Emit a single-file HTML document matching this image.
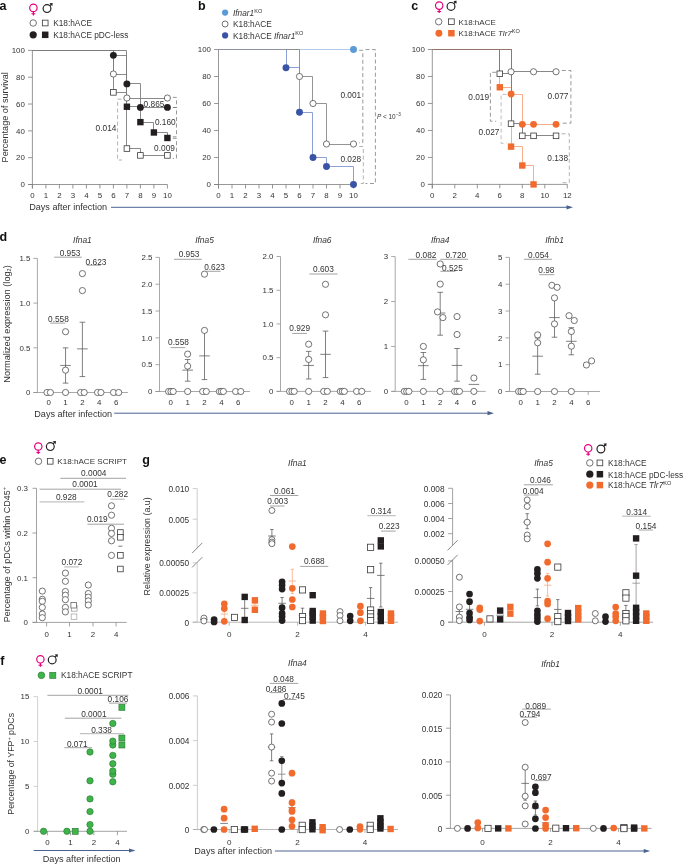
<!DOCTYPE html><html><head><meta charset="utf-8"><style>html,body{margin:0;padding:0;background:#fff;}svg{display:block;font-family:"Liberation Sans",sans-serif;will-change:transform;}</style></head><body>
<svg width="685" height="864" viewBox="0 0 685 864">
<rect width="685" height="864" fill="#fff"/>
<text x="-0.6" y="10.4" font-size="12.5" font-weight="bold" fill="#111">a</text>
<circle cx="33.4" cy="7.9" r="3.7" fill="none" stroke="#e6007e" stroke-width="1.2"/>
<line x1="33.4" y1="11.6" x2="33.4" y2="15.4" stroke="#e6007e" stroke-width="1.2"/>
<line x1="31.5" y1="13.8" x2="35.3" y2="13.8" stroke="#e6007e" stroke-width="1.1"/>
<circle cx="47" cy="8.6" r="3.9" fill="none" stroke="#222" stroke-width="1.2"/>
<line x1="49.76" y1="5.84" x2="51.45" y2="4.15" stroke="#222" stroke-width="1.2"/>
<path d="M52.65 2.95 L49.45 3.25 L52.35 6.15 Z" fill="#222"/>
<circle cx="33.2" cy="23" r="3.25" fill="#fff" stroke="#474747" stroke-width="0.75"/>
<rect x="42.35" y="20.15" width="5.7" height="5.7" fill="#fff" stroke="#3a3a3a" stroke-width="0.8"/>
<text x="53.2" y="23.3" font-size="8.3" text-anchor="start" fill="#333" font-weight="normal" font-style="normal" dominant-baseline="central">K18:hACE</text>
<circle cx="33.2" cy="34.8" r="3.6" fill="#231f20"/>
<rect x="41.95" y="31.55" width="6.5" height="6.5" fill="#231f20"/>
<text x="53.2" y="35.1" font-size="8.3" text-anchor="start" fill="#333" font-weight="normal" font-style="normal" dominant-baseline="central">K18:hACE pDC-less</text>
<text x="4.6" y="117.25" font-size="9.15" text-anchor="middle" fill="#333" font-weight="normal" font-style="normal" dominant-baseline="central" transform="rotate(-90 4.6 117.25)">Percentage of survival</text>
<line x1="32.4" y1="50.4" x2="32.4" y2="188.5" stroke="#7d7d7d" stroke-width="0.8"/>
<line x1="28" y1="184.5" x2="32.4" y2="184.5" stroke="#7d7d7d" stroke-width="0.8"/>
<text x="24.9" y="184.8" font-size="7.9" text-anchor="end" fill="#333" font-weight="normal" font-style="normal" dominant-baseline="central">0</text>
<line x1="28" y1="157.68" x2="32.4" y2="157.68" stroke="#7d7d7d" stroke-width="0.8"/>
<text x="24.9" y="157.98" font-size="7.9" text-anchor="end" fill="#333" font-weight="normal" font-style="normal" dominant-baseline="central">20</text>
<line x1="28" y1="130.86" x2="32.4" y2="130.86" stroke="#7d7d7d" stroke-width="0.8"/>
<text x="24.9" y="131.16" font-size="7.9" text-anchor="end" fill="#333" font-weight="normal" font-style="normal" dominant-baseline="central">40</text>
<line x1="28" y1="104.04" x2="32.4" y2="104.04" stroke="#7d7d7d" stroke-width="0.8"/>
<text x="24.9" y="104.34" font-size="7.9" text-anchor="end" fill="#333" font-weight="normal" font-style="normal" dominant-baseline="central">60</text>
<line x1="28" y1="77.22" x2="32.4" y2="77.22" stroke="#7d7d7d" stroke-width="0.8"/>
<text x="24.9" y="77.52" font-size="7.9" text-anchor="end" fill="#333" font-weight="normal" font-style="normal" dominant-baseline="central">80</text>
<line x1="28" y1="50.4" x2="32.4" y2="50.4" stroke="#7d7d7d" stroke-width="0.8"/>
<text x="24.9" y="50.7" font-size="7.9" text-anchor="end" fill="#333" font-weight="normal" font-style="normal" dominant-baseline="central">100</text>
<line x1="28" y1="184.5" x2="167.4" y2="184.5" stroke="#7d7d7d" stroke-width="0.8"/>
<line x1="32.4" y1="184.5" x2="32.4" y2="188.5" stroke="#7d7d7d" stroke-width="0.8"/>
<text x="32.4" y="195.6" font-size="7.9" text-anchor="middle" fill="#333" font-weight="normal" font-style="normal" dominant-baseline="central">0</text>
<line x1="45.9" y1="184.5" x2="45.9" y2="188.5" stroke="#7d7d7d" stroke-width="0.8"/>
<text x="45.9" y="195.6" font-size="7.9" text-anchor="middle" fill="#333" font-weight="normal" font-style="normal" dominant-baseline="central">1</text>
<line x1="59.4" y1="184.5" x2="59.4" y2="188.5" stroke="#7d7d7d" stroke-width="0.8"/>
<text x="59.4" y="195.6" font-size="7.9" text-anchor="middle" fill="#333" font-weight="normal" font-style="normal" dominant-baseline="central">2</text>
<line x1="72.9" y1="184.5" x2="72.9" y2="188.5" stroke="#7d7d7d" stroke-width="0.8"/>
<text x="72.9" y="195.6" font-size="7.9" text-anchor="middle" fill="#333" font-weight="normal" font-style="normal" dominant-baseline="central">3</text>
<line x1="86.4" y1="184.5" x2="86.4" y2="188.5" stroke="#7d7d7d" stroke-width="0.8"/>
<text x="86.4" y="195.6" font-size="7.9" text-anchor="middle" fill="#333" font-weight="normal" font-style="normal" dominant-baseline="central">4</text>
<line x1="99.9" y1="184.5" x2="99.9" y2="188.5" stroke="#7d7d7d" stroke-width="0.8"/>
<text x="99.9" y="195.6" font-size="7.9" text-anchor="middle" fill="#333" font-weight="normal" font-style="normal" dominant-baseline="central">5</text>
<line x1="113.4" y1="184.5" x2="113.4" y2="188.5" stroke="#7d7d7d" stroke-width="0.8"/>
<text x="113.4" y="195.6" font-size="7.9" text-anchor="middle" fill="#333" font-weight="normal" font-style="normal" dominant-baseline="central">6</text>
<line x1="126.9" y1="184.5" x2="126.9" y2="188.5" stroke="#7d7d7d" stroke-width="0.8"/>
<text x="126.9" y="195.6" font-size="7.9" text-anchor="middle" fill="#333" font-weight="normal" font-style="normal" dominant-baseline="central">7</text>
<line x1="140.4" y1="184.5" x2="140.4" y2="188.5" stroke="#7d7d7d" stroke-width="0.8"/>
<text x="140.4" y="195.6" font-size="7.9" text-anchor="middle" fill="#333" font-weight="normal" font-style="normal" dominant-baseline="central">8</text>
<line x1="153.9" y1="184.5" x2="153.9" y2="188.5" stroke="#7d7d7d" stroke-width="0.8"/>
<text x="153.9" y="195.6" font-size="7.9" text-anchor="middle" fill="#333" font-weight="normal" font-style="normal" dominant-baseline="central">9</text>
<line x1="167.4" y1="184.5" x2="167.4" y2="188.5" stroke="#7d7d7d" stroke-width="0.8"/>
<text x="167.4" y="195.6" font-size="7.9" text-anchor="middle" fill="#333" font-weight="normal" font-style="normal" dominant-baseline="central">10</text>
<path d="M32.5 50.5 H113.5 V74.5 H126.5 V98.5 H167.5" stroke="#7d7d7d" stroke-width="0.9" fill="none"/>
<path d="M32.5 50.5 H113.5 V55.5 H126.5 V83.5 H140.5 V107.5 H167.5" stroke="#7d7d7d" stroke-width="0.9" fill="none"/>
<path d="M32.5 50.5 H113.5 V92.5 H126.5 V148.5 H140.5 V155.5 H167.5" stroke="#7d7d7d" stroke-width="0.9" fill="none"/>
<path d="M32.5 50.5 H126.5 V106.5 H140.5 V122.5 H153.5 V132.5 H167.5 V137.5 H167.5" stroke="#7d7d7d" stroke-width="0.9" fill="none"/>
<circle cx="113.4" cy="74" r="3.1" fill="#fff" stroke="#474747" stroke-width="0.75"/>
<circle cx="126.9" cy="98.01" r="3.1" fill="#fff" stroke="#474747" stroke-width="0.75"/>
<circle cx="167.4" cy="98.01" r="3.1" fill="#fff" stroke="#474747" stroke-width="0.75"/>
<circle cx="113.4" cy="55.36" r="3.45" fill="#231f20"/>
<circle cx="126.9" cy="83.92" r="3.45" fill="#231f20"/>
<circle cx="140.4" cy="107.39" r="3.45" fill="#231f20"/>
<circle cx="167.4" cy="107.39" r="3.45" fill="#231f20"/>
<rect x="110.6" y="89.57" width="5.6" height="5.6" fill="#fff" stroke="#3a3a3a" stroke-width="0.8"/>
<rect x="124.1" y="145.76" width="5.6" height="5.6" fill="#fff" stroke="#3a3a3a" stroke-width="0.8"/>
<rect x="137.6" y="152.6" width="5.6" height="5.6" fill="#fff" stroke="#3a3a3a" stroke-width="0.8"/>
<rect x="164.6" y="152.6" width="5.6" height="5.6" fill="#fff" stroke="#3a3a3a" stroke-width="0.8"/>
<rect x="123.7" y="103.52" width="6.4" height="6.4" fill="#231f20"/>
<rect x="137.2" y="118.94" width="6.4" height="6.4" fill="#231f20"/>
<rect x="150.7" y="129.27" width="6.4" height="6.4" fill="#231f20"/>
<rect x="164.2" y="134.77" width="6.4" height="6.4" fill="#231f20"/>
<path d="M121.5 99.2 H117.6 V160 H122" stroke="#999" stroke-width="0.75" fill="none" stroke-dasharray="4 2.6"/>
<path d="M172.8 97.4 H176.5 V107.5 H172.8" stroke="#777" stroke-width="0.75" fill="none" stroke-dasharray="4 2.6"/>
<path d="M172.8 107.5 H176.5 V136.8 H172.8" stroke="#777" stroke-width="0.75" fill="none" stroke-dasharray="4 2.6"/>
<path d="M172.8 138.3 H176.5 V158.5 H172.8" stroke="#777" stroke-width="0.75" fill="none" stroke-dasharray="4 2.6"/>
<text x="154" y="104" font-size="8.3" text-anchor="middle" fill="#333" font-weight="normal" font-style="normal" dominant-baseline="central">0.865</text>
<text x="165.3" y="122.1" font-size="8.3" text-anchor="middle" fill="#333" font-weight="normal" font-style="normal" dominant-baseline="central">0.160</text>
<text x="164.5" y="147.8" font-size="8.3" text-anchor="middle" fill="#333" font-weight="normal" font-style="normal" dominant-baseline="central">0.009</text>
<text x="106" y="128.1" font-size="8.3" text-anchor="middle" fill="#333" font-weight="normal" font-style="normal" dominant-baseline="central">0.014</text>
<text x="197.9" y="10.4" font-size="12.5" font-weight="bold" fill="#111">b</text>
<circle cx="225.1" cy="12.6" r="3.1" fill="#5b9bd5"/>
<text x="233" y="13.3" font-size="8.3" fill="#333" dominant-baseline="central"><tspan font-style="italic">Ifnar1</tspan><tspan font-size="5.6" dy="-2.6">KO</tspan></text>
<circle cx="225.1" cy="24" r="3.0" fill="#fff" stroke="#474747" stroke-width="0.75"/>
<text x="233" y="24.4" font-size="8.3" text-anchor="start" fill="#333" font-weight="normal" font-style="normal" dominant-baseline="central">K18:hACE</text>
<circle cx="225.1" cy="35.4" r="3.1" fill="#3a54a5"/>
<text x="233" y="35.8" font-size="8.3" fill="#333" dominant-baseline="central">K18:hACE <tspan font-style="italic">Ifnar1</tspan><tspan font-size="5.6" dy="-2.6">KO</tspan></text>
<line x1="218.5" y1="49.5" x2="218.5" y2="188.5" stroke="#7d7d7d" stroke-width="0.8"/>
<line x1="214.1" y1="184.5" x2="218.5" y2="184.5" stroke="#7d7d7d" stroke-width="0.8"/>
<text x="211" y="184.8" font-size="7.9" text-anchor="end" fill="#333" font-weight="normal" font-style="normal" dominant-baseline="central">0</text>
<line x1="214.1" y1="157.5" x2="218.5" y2="157.5" stroke="#7d7d7d" stroke-width="0.8"/>
<text x="211" y="157.8" font-size="7.9" text-anchor="end" fill="#333" font-weight="normal" font-style="normal" dominant-baseline="central">20</text>
<line x1="214.1" y1="130.5" x2="218.5" y2="130.5" stroke="#7d7d7d" stroke-width="0.8"/>
<text x="211" y="130.8" font-size="7.9" text-anchor="end" fill="#333" font-weight="normal" font-style="normal" dominant-baseline="central">40</text>
<line x1="214.1" y1="103.5" x2="218.5" y2="103.5" stroke="#7d7d7d" stroke-width="0.8"/>
<text x="211" y="103.8" font-size="7.9" text-anchor="end" fill="#333" font-weight="normal" font-style="normal" dominant-baseline="central">60</text>
<line x1="214.1" y1="76.5" x2="218.5" y2="76.5" stroke="#7d7d7d" stroke-width="0.8"/>
<text x="211" y="76.8" font-size="7.9" text-anchor="end" fill="#333" font-weight="normal" font-style="normal" dominant-baseline="central">80</text>
<line x1="214.1" y1="49.5" x2="218.5" y2="49.5" stroke="#7d7d7d" stroke-width="0.8"/>
<text x="211" y="49.8" font-size="7.9" text-anchor="end" fill="#333" font-weight="normal" font-style="normal" dominant-baseline="central">100</text>
<line x1="214.1" y1="184.5" x2="353.5" y2="184.5" stroke="#7d7d7d" stroke-width="0.8"/>
<line x1="218.5" y1="184.5" x2="218.5" y2="188.5" stroke="#7d7d7d" stroke-width="0.8"/>
<text x="218.5" y="195.6" font-size="7.9" text-anchor="middle" fill="#333" font-weight="normal" font-style="normal" dominant-baseline="central">0</text>
<line x1="232" y1="184.5" x2="232" y2="188.5" stroke="#7d7d7d" stroke-width="0.8"/>
<text x="232" y="195.6" font-size="7.9" text-anchor="middle" fill="#333" font-weight="normal" font-style="normal" dominant-baseline="central">1</text>
<line x1="245.5" y1="184.5" x2="245.5" y2="188.5" stroke="#7d7d7d" stroke-width="0.8"/>
<text x="245.5" y="195.6" font-size="7.9" text-anchor="middle" fill="#333" font-weight="normal" font-style="normal" dominant-baseline="central">2</text>
<line x1="259" y1="184.5" x2="259" y2="188.5" stroke="#7d7d7d" stroke-width="0.8"/>
<text x="259" y="195.6" font-size="7.9" text-anchor="middle" fill="#333" font-weight="normal" font-style="normal" dominant-baseline="central">3</text>
<line x1="272.5" y1="184.5" x2="272.5" y2="188.5" stroke="#7d7d7d" stroke-width="0.8"/>
<text x="272.5" y="195.6" font-size="7.9" text-anchor="middle" fill="#333" font-weight="normal" font-style="normal" dominant-baseline="central">4</text>
<line x1="286" y1="184.5" x2="286" y2="188.5" stroke="#7d7d7d" stroke-width="0.8"/>
<text x="286" y="195.6" font-size="7.9" text-anchor="middle" fill="#333" font-weight="normal" font-style="normal" dominant-baseline="central">5</text>
<line x1="299.5" y1="184.5" x2="299.5" y2="188.5" stroke="#7d7d7d" stroke-width="0.8"/>
<text x="299.5" y="195.6" font-size="7.9" text-anchor="middle" fill="#333" font-weight="normal" font-style="normal" dominant-baseline="central">6</text>
<line x1="313" y1="184.5" x2="313" y2="188.5" stroke="#7d7d7d" stroke-width="0.8"/>
<text x="313" y="195.6" font-size="7.9" text-anchor="middle" fill="#333" font-weight="normal" font-style="normal" dominant-baseline="central">7</text>
<line x1="326.5" y1="184.5" x2="326.5" y2="188.5" stroke="#7d7d7d" stroke-width="0.8"/>
<text x="326.5" y="195.6" font-size="7.9" text-anchor="middle" fill="#333" font-weight="normal" font-style="normal" dominant-baseline="central">8</text>
<line x1="340" y1="184.5" x2="340" y2="188.5" stroke="#7d7d7d" stroke-width="0.8"/>
<text x="340" y="195.6" font-size="7.9" text-anchor="middle" fill="#333" font-weight="normal" font-style="normal" dominant-baseline="central">9</text>
<line x1="353.5" y1="184.5" x2="353.5" y2="188.5" stroke="#7d7d7d" stroke-width="0.8"/>
<text x="353.5" y="195.6" font-size="7.9" text-anchor="middle" fill="#333" font-weight="normal" font-style="normal" dominant-baseline="central">10</text>
<path d="M218.5 49.5 H353.5" stroke="#a9c4ea" stroke-width="0.9" fill="none"/>
<path d="M218.5 49.5 H286.5 V67.5 H299.5 V112.5 H312.5 V157.5 H326.5 V166.5 H353.5 V184.5 H353.5" stroke="#7f97d2" stroke-width="0.9" fill="none"/>
<path d="M218.5 49.5 H299.5 V76.5 H312.5 V103.5 H326.5 V144.5 H353.5" stroke="#888888" stroke-width="0.9" fill="none"/>
<line x1="218.5" y1="49.5" x2="286.5" y2="49.5" stroke="#8a93a8" stroke-width="0.9"/>
<circle cx="353.5" cy="49.5" r="3.45" fill="#5b9bd5"/>
<circle cx="299.5" cy="76.5" r="3.1" fill="#fff" stroke="#474747" stroke-width="0.75"/>
<circle cx="313" cy="103.5" r="3.1" fill="#fff" stroke="#474747" stroke-width="0.75"/>
<circle cx="326.5" cy="144" r="3.1" fill="#fff" stroke="#474747" stroke-width="0.75"/>
<circle cx="353.5" cy="144" r="3.1" fill="#fff" stroke="#474747" stroke-width="0.75"/>
<circle cx="286" cy="67.72" r="3.45" fill="#3a54a5"/>
<circle cx="299.5" cy="112.28" r="3.45" fill="#3a54a5"/>
<circle cx="313" cy="157.5" r="3.45" fill="#3a54a5"/>
<circle cx="326.5" cy="166.55" r="3.45" fill="#3a54a5"/>
<circle cx="353.5" cy="184.5" r="3.45" fill="#3a54a5"/>
<path d="M359.2 50.3 H362.8 V142.8 H359.2" stroke="#777" stroke-width="0.75" fill="none" stroke-dasharray="4 2.6"/>
<path d="M359.2 146.5 H363.3 V183.5 H359.2" stroke="#999" stroke-width="0.75" fill="none" stroke-dasharray="4 2.6"/>
<path d="M365.5 49.6 H375.4 V183.5 H365.5" stroke="#777" stroke-width="0.75" fill="none" stroke-dasharray="4 2.6"/>
<text x="350.8" y="95.2" font-size="8.3" text-anchor="middle" fill="#333" font-weight="normal" font-style="normal" dominant-baseline="central">0.001</text>
<text x="350.8" y="158.5" font-size="8.3" text-anchor="middle" fill="#333" font-weight="normal" font-style="normal" dominant-baseline="central">0.028</text>
<text x="377" y="116.3" font-size="6.4" fill="#333" dominant-baseline="central"><tspan font-style="italic">P</tspan> &lt; 10<tspan font-size="4.6" dy="-2.4">&#8722;3</tspan></text>
<text x="411.2" y="10.4" font-size="12.5" font-weight="bold" fill="#111">c</text>
<circle cx="439.2" cy="5.6" r="3.7" fill="none" stroke="#e6007e" stroke-width="1.2"/>
<line x1="439.2" y1="9.3" x2="439.2" y2="13.1" stroke="#e6007e" stroke-width="1.2"/>
<line x1="437.3" y1="11.5" x2="441.1" y2="11.5" stroke="#e6007e" stroke-width="1.1"/>
<circle cx="451" cy="6.4" r="3.9" fill="none" stroke="#222" stroke-width="1.2"/>
<line x1="453.76" y1="3.64" x2="455.45" y2="1.95" stroke="#222" stroke-width="1.2"/>
<path d="M456.65 0.75 L453.45 1.05 L456.35 3.95 Z" fill="#222"/>
<circle cx="438.7" cy="21.7" r="3.25" fill="#fff" stroke="#474747" stroke-width="0.75"/>
<rect x="448.55" y="18.85" width="5.7" height="5.7" fill="#fff" stroke="#3a3a3a" stroke-width="0.8"/>
<text x="458.4" y="22" font-size="8.0" text-anchor="start" fill="#333" font-weight="normal" font-style="normal" dominant-baseline="central">K18:hACE</text>
<circle cx="438.9" cy="33.2" r="3.45" fill="#f26b2e"/>
<rect x="448.15" y="29.95" width="6.5" height="6.5" fill="#f26b2e"/>
<text x="458.4" y="33.4" font-size="8.0" fill="#333" dominant-baseline="central">K18:hACE <tspan font-style="italic">Tlr7</tspan><tspan font-size="5.6" dy="-2.6">KO</tspan></text>
<line x1="432.3" y1="49.5" x2="432.3" y2="188.4" stroke="#7d7d7d" stroke-width="0.8"/>
<line x1="427.9" y1="184.4" x2="432.3" y2="184.4" stroke="#7d7d7d" stroke-width="0.8"/>
<text x="424.8" y="184.7" font-size="7.9" text-anchor="end" fill="#333" font-weight="normal" font-style="normal" dominant-baseline="central">0</text>
<line x1="427.9" y1="157.42" x2="432.3" y2="157.42" stroke="#7d7d7d" stroke-width="0.8"/>
<text x="424.8" y="157.72" font-size="7.9" text-anchor="end" fill="#333" font-weight="normal" font-style="normal" dominant-baseline="central">20</text>
<line x1="427.9" y1="130.44" x2="432.3" y2="130.44" stroke="#7d7d7d" stroke-width="0.8"/>
<text x="424.8" y="130.74" font-size="7.9" text-anchor="end" fill="#333" font-weight="normal" font-style="normal" dominant-baseline="central">40</text>
<line x1="427.9" y1="103.46" x2="432.3" y2="103.46" stroke="#7d7d7d" stroke-width="0.8"/>
<text x="424.8" y="103.76" font-size="7.9" text-anchor="end" fill="#333" font-weight="normal" font-style="normal" dominant-baseline="central">60</text>
<line x1="427.9" y1="76.48" x2="432.3" y2="76.48" stroke="#7d7d7d" stroke-width="0.8"/>
<text x="424.8" y="76.78" font-size="7.9" text-anchor="end" fill="#333" font-weight="normal" font-style="normal" dominant-baseline="central">80</text>
<line x1="427.9" y1="49.5" x2="432.3" y2="49.5" stroke="#7d7d7d" stroke-width="0.8"/>
<text x="424.8" y="49.8" font-size="7.9" text-anchor="end" fill="#333" font-weight="normal" font-style="normal" dominant-baseline="central">100</text>
<line x1="427.9" y1="184.4" x2="567.3" y2="184.4" stroke="#7d7d7d" stroke-width="0.8"/>
<line x1="432.3" y1="184.4" x2="432.3" y2="188.4" stroke="#7d7d7d" stroke-width="0.8"/>
<text x="432.3" y="195.6" font-size="7.9" text-anchor="middle" fill="#333" font-weight="normal" font-style="normal" dominant-baseline="central">0</text>
<line x1="454.8" y1="184.4" x2="454.8" y2="188.4" stroke="#7d7d7d" stroke-width="0.8"/>
<text x="454.8" y="195.6" font-size="7.9" text-anchor="middle" fill="#333" font-weight="normal" font-style="normal" dominant-baseline="central">2</text>
<line x1="477.3" y1="184.4" x2="477.3" y2="188.4" stroke="#7d7d7d" stroke-width="0.8"/>
<text x="477.3" y="195.6" font-size="7.9" text-anchor="middle" fill="#333" font-weight="normal" font-style="normal" dominant-baseline="central">4</text>
<line x1="499.8" y1="184.4" x2="499.8" y2="188.4" stroke="#7d7d7d" stroke-width="0.8"/>
<text x="499.8" y="195.6" font-size="7.9" text-anchor="middle" fill="#333" font-weight="normal" font-style="normal" dominant-baseline="central">6</text>
<line x1="522.3" y1="184.4" x2="522.3" y2="188.4" stroke="#7d7d7d" stroke-width="0.8"/>
<text x="522.3" y="195.6" font-size="7.9" text-anchor="middle" fill="#333" font-weight="normal" font-style="normal" dominant-baseline="central">8</text>
<line x1="544.8" y1="184.4" x2="544.8" y2="188.4" stroke="#7d7d7d" stroke-width="0.8"/>
<text x="544.8" y="195.6" font-size="7.9" text-anchor="middle" fill="#333" font-weight="normal" font-style="normal" dominant-baseline="central">10</text>
<line x1="567.3" y1="184.4" x2="567.3" y2="188.4" stroke="#7d7d7d" stroke-width="0.8"/>
<text x="567.3" y="195.6" font-size="7.9" text-anchor="middle" fill="#333" font-weight="normal" font-style="normal" dominant-baseline="central">12</text>
<path d="M432.5 49.5 H511.5 V94.5 H522.5 V124.5 H556.5" stroke="#f5a57f" stroke-width="0.9" fill="none"/>
<path d="M432.5 49.5 H499.5 V87.5 H511.5 V146.5 H522.5 V165.5 H533.5 V184.5 H533.5" stroke="#f5a57f" stroke-width="0.9" fill="none"/>
<path d="M432.5 49.5 H511.5 V71.5 H556.5" stroke="#7a7a7a" stroke-width="0.9" fill="none"/>
<path d="M432.5 49.5 H499.5 V73.5 H511.5 V123.5 H522.5 V135.5 H556.5" stroke="#7a7a7a" stroke-width="0.9" fill="none"/>
<path d="M432.5 49.5 H511.5" stroke="#957468" stroke-width="0.9" fill="none"/>
<path d="M499.5 49.5 V73.5" stroke="#957468" stroke-width="0.9" fill="none"/>
<path d="M511.5 49.5 V123.5" stroke="#957468" stroke-width="0.9" fill="none"/>
<circle cx="511.05" cy="71.76" r="3.1" fill="#fff" stroke="#474747" stroke-width="0.75"/>
<circle cx="533.55" cy="71.76" r="3.1" fill="#fff" stroke="#474747" stroke-width="0.75"/>
<circle cx="556.05" cy="71.76" r="3.1" fill="#fff" stroke="#474747" stroke-width="0.75"/>
<rect x="497" y="70.98" width="5.6" height="5.6" fill="#fff" stroke="#3a3a3a" stroke-width="0.8"/>
<rect x="508.25" y="120.9" width="5.6" height="5.6" fill="#fff" stroke="#3a3a3a" stroke-width="0.8"/>
<rect x="519.5" y="133.04" width="5.6" height="5.6" fill="#fff" stroke="#3a3a3a" stroke-width="0.8"/>
<rect x="530.75" y="133.04" width="5.6" height="5.6" fill="#fff" stroke="#3a3a3a" stroke-width="0.8"/>
<rect x="553.25" y="133.04" width="5.6" height="5.6" fill="#fff" stroke="#3a3a3a" stroke-width="0.8"/>
<circle cx="511.05" cy="94.02" r="3.45" fill="#f26b2e"/>
<circle cx="522.3" cy="124.37" r="3.45" fill="#f26b2e"/>
<circle cx="533.55" cy="124.37" r="3.45" fill="#f26b2e"/>
<circle cx="556.05" cy="124.37" r="3.45" fill="#f26b2e"/>
<rect x="496.6" y="84.07" width="6.4" height="6.4" fill="#f26b2e"/>
<rect x="507.85" y="143.43" width="6.4" height="6.4" fill="#f26b2e"/>
<rect x="519.1" y="162.31" width="6.4" height="6.4" fill="#f26b2e"/>
<rect x="530.35" y="181.2" width="6.4" height="6.4" fill="#f26b2e"/>
<path d="M496.2 72.3 H490.4 V121.2 H496.2" stroke="#777" stroke-width="0.75" fill="none" stroke-dasharray="4 2.6"/>
<path d="M506.5 94.4 H501.1 V143.3 H506.5" stroke="#aaa" stroke-width="0.75" fill="none" stroke-dasharray="4 2.6"/>
<path d="M561.8 70.5 H570.9 V123.2 H561.8" stroke="#777" stroke-width="0.75" fill="none" stroke-dasharray="4 2.6"/>
<path d="M561.5 133.8 H569.3 V182.7 H561.5" stroke="#999" stroke-width="0.75" fill="none" stroke-dasharray="4 2.6"/>
<text x="478.7" y="97" font-size="8.3" text-anchor="middle" fill="#333" font-weight="normal" font-style="normal" dominant-baseline="central">0.019</text>
<text x="489" y="132.1" font-size="8.3" text-anchor="middle" fill="#333" font-weight="normal" font-style="normal" dominant-baseline="central">0.027</text>
<text x="558" y="96.4" font-size="8.3" text-anchor="middle" fill="#333" font-weight="normal" font-style="normal" dominant-baseline="central">0.077</text>
<text x="557.7" y="157.8" font-size="8.3" text-anchor="middle" fill="#333" font-weight="normal" font-style="normal" dominant-baseline="central">0.138</text>
<text x="29.2" y="207.2" font-size="9.1" text-anchor="start" fill="#333" font-weight="normal" font-style="normal" dominant-baseline="central">Days after infection</text>
<line x1="111" y1="207.3" x2="568" y2="207.3" stroke="#4a6290" stroke-width="1.0"/>
<path d="M573 207.3 L566.5 205.2 L566.5 209.4 Z" fill="#4a6290"/>
<text x="-0.5" y="241.4" font-size="12.5" font-weight="bold" fill="#111">d</text>
<text x="7" y="324" font-size="9.2" text-anchor="middle" fill="#333" font-weight="normal" font-style="normal" dominant-baseline="central" transform="rotate(-90 7 324)">Normalized expression (log<tspan font-size="5.5" dy="1.8">2</tspan><tspan dy="-1.8">)</tspan></text>
<text x="82.4" y="240" font-size="8.4" text-anchor="middle" fill="#333" font-weight="normal" font-style="italic" dominant-baseline="central">Ifna1</text>
<line x1="37.4" y1="258.4" x2="37.4" y2="392.5" stroke="#939393" stroke-width="0.8"/>
<line x1="33.4" y1="392.5" x2="37.4" y2="392.5" stroke="#939393" stroke-width="0.8"/>
<text x="30.4" y="392.8" font-size="7.9" text-anchor="end" fill="#333" font-weight="normal" font-style="normal" dominant-baseline="central">0</text>
<line x1="33.4" y1="347.8" x2="37.4" y2="347.8" stroke="#939393" stroke-width="0.8"/>
<text x="30.4" y="348.1" font-size="7.9" text-anchor="end" fill="#333" font-weight="normal" font-style="normal" dominant-baseline="central">0.5</text>
<line x1="33.4" y1="303.1" x2="37.4" y2="303.1" stroke="#939393" stroke-width="0.8"/>
<text x="30.4" y="303.4" font-size="7.9" text-anchor="end" fill="#333" font-weight="normal" font-style="normal" dominant-baseline="central">1.0</text>
<line x1="33.4" y1="258.4" x2="37.4" y2="258.4" stroke="#939393" stroke-width="0.8"/>
<text x="30.4" y="258.7" font-size="7.9" text-anchor="end" fill="#333" font-weight="normal" font-style="normal" dominant-baseline="central">1.5</text>
<line x1="33.4" y1="392.5" x2="127.9" y2="392.5" stroke="#939393" stroke-width="0.8"/>
<line x1="48.7" y1="392.5" x2="48.7" y2="396" stroke="#939393" stroke-width="0.8"/>
<text x="48.7" y="402.8" font-size="7.9" text-anchor="middle" fill="#333" font-weight="normal" font-style="normal" dominant-baseline="central">0</text>
<line x1="65.55" y1="392.5" x2="65.55" y2="396" stroke="#939393" stroke-width="0.8"/>
<text x="65.55" y="402.8" font-size="7.9" text-anchor="middle" fill="#333" font-weight="normal" font-style="normal" dominant-baseline="central">1</text>
<line x1="82.4" y1="392.5" x2="82.4" y2="396" stroke="#939393" stroke-width="0.8"/>
<text x="82.4" y="402.8" font-size="7.9" text-anchor="middle" fill="#333" font-weight="normal" font-style="normal" dominant-baseline="central">2</text>
<line x1="99.25" y1="392.5" x2="99.25" y2="396" stroke="#939393" stroke-width="0.8"/>
<text x="99.25" y="402.8" font-size="7.9" text-anchor="middle" fill="#333" font-weight="normal" font-style="normal" dominant-baseline="central">4</text>
<line x1="116.1" y1="392.5" x2="116.1" y2="396" stroke="#939393" stroke-width="0.8"/>
<text x="116.1" y="402.8" font-size="7.9" text-anchor="middle" fill="#333" font-weight="normal" font-style="normal" dominant-baseline="central">6</text>
<line x1="65.55" y1="383.11" x2="65.55" y2="347.89" stroke="#555" stroke-width="0.75"/>
<line x1="60.25" y1="365.41" x2="70.85" y2="365.41" stroke="#555" stroke-width="0.75"/>
<line x1="62.75" y1="383.11" x2="68.35" y2="383.11" stroke="#555" stroke-width="0.75"/>
<line x1="62.75" y1="347.89" x2="68.35" y2="347.89" stroke="#555" stroke-width="0.75"/>
<line x1="82.4" y1="376.59" x2="82.4" y2="322.23" stroke="#555" stroke-width="0.75"/>
<line x1="77.1" y1="348.87" x2="87.7" y2="348.87" stroke="#555" stroke-width="0.75"/>
<line x1="79.6" y1="376.59" x2="85.2" y2="376.59" stroke="#555" stroke-width="0.75"/>
<line x1="79.6" y1="322.23" x2="85.2" y2="322.23" stroke="#555" stroke-width="0.75"/>
<circle cx="47" cy="392.5" r="3.1" fill="#fff" stroke="#474747" stroke-width="0.75"/>
<circle cx="50.4" cy="392.5" r="3.1" fill="#fff" stroke="#474747" stroke-width="0.75"/>
<circle cx="65.55" cy="392.5" r="3.1" fill="#fff" stroke="#474747" stroke-width="0.75"/>
<circle cx="65.55" cy="331.71" r="3.1" fill="#fff" stroke="#474747" stroke-width="0.75"/>
<circle cx="65.55" cy="370.15" r="3.1" fill="#fff" stroke="#474747" stroke-width="0.75"/>
<circle cx="80.6" cy="392.5" r="3.1" fill="#fff" stroke="#474747" stroke-width="0.75"/>
<circle cx="84.2" cy="392.5" r="3.1" fill="#fff" stroke="#474747" stroke-width="0.75"/>
<circle cx="82.4" cy="273.6" r="3.1" fill="#fff" stroke="#474747" stroke-width="0.75"/>
<circle cx="82.4" cy="290.58" r="3.1" fill="#fff" stroke="#474747" stroke-width="0.75"/>
<circle cx="97.55" cy="392.5" r="3.1" fill="#fff" stroke="#474747" stroke-width="0.75"/>
<circle cx="100.95" cy="392.5" r="3.1" fill="#fff" stroke="#474747" stroke-width="0.75"/>
<circle cx="113.5" cy="392.5" r="3.1" fill="#fff" stroke="#474747" stroke-width="0.75"/>
<circle cx="118.7" cy="392.5" r="3.1" fill="#fff" stroke="#474747" stroke-width="0.75"/>
<line x1="54.2" y1="257.2" x2="81.8" y2="257.2" stroke="#8a8a8a" stroke-width="0.8"/>
<text x="70.1" y="253.4" font-size="8.3" text-anchor="middle" fill="#333" font-weight="normal" font-style="normal" dominant-baseline="central">0.953</text>
<line x1="86.9" y1="265.2" x2="100.9" y2="265.2" stroke="#8a8a8a" stroke-width="0.8"/>
<text x="96" y="261.8" font-size="8.3" text-anchor="middle" fill="#333" font-weight="normal" font-style="normal" dominant-baseline="central">0.623</text>
<line x1="50.2" y1="323.1" x2="65.4" y2="323.1" stroke="#8a8a8a" stroke-width="0.8"/>
<text x="58.4" y="319" font-size="8.3" text-anchor="middle" fill="#333" font-weight="normal" font-style="normal" dominant-baseline="central">0.558</text>
<text x="204.5" y="240" font-size="8.4" text-anchor="middle" fill="#333" font-weight="normal" font-style="italic" dominant-baseline="central">Ifna5</text>
<line x1="159.5" y1="257.4" x2="159.5" y2="391.5" stroke="#939393" stroke-width="0.8"/>
<line x1="155.5" y1="391.5" x2="159.5" y2="391.5" stroke="#939393" stroke-width="0.8"/>
<text x="152.5" y="391.8" font-size="7.9" text-anchor="end" fill="#333" font-weight="normal" font-style="normal" dominant-baseline="central">0</text>
<line x1="155.5" y1="364.68" x2="159.5" y2="364.68" stroke="#939393" stroke-width="0.8"/>
<text x="152.5" y="364.98" font-size="7.9" text-anchor="end" fill="#333" font-weight="normal" font-style="normal" dominant-baseline="central">0.5</text>
<line x1="155.5" y1="337.86" x2="159.5" y2="337.86" stroke="#939393" stroke-width="0.8"/>
<text x="152.5" y="338.16" font-size="7.9" text-anchor="end" fill="#333" font-weight="normal" font-style="normal" dominant-baseline="central">1.0</text>
<line x1="155.5" y1="311.04" x2="159.5" y2="311.04" stroke="#939393" stroke-width="0.8"/>
<text x="152.5" y="311.34" font-size="7.9" text-anchor="end" fill="#333" font-weight="normal" font-style="normal" dominant-baseline="central">1.5</text>
<line x1="155.5" y1="284.22" x2="159.5" y2="284.22" stroke="#939393" stroke-width="0.8"/>
<text x="152.5" y="284.52" font-size="7.9" text-anchor="end" fill="#333" font-weight="normal" font-style="normal" dominant-baseline="central">2.0</text>
<line x1="155.5" y1="257.4" x2="159.5" y2="257.4" stroke="#939393" stroke-width="0.8"/>
<text x="152.5" y="257.7" font-size="7.9" text-anchor="end" fill="#333" font-weight="normal" font-style="normal" dominant-baseline="central">2.5</text>
<line x1="155.5" y1="391.5" x2="250" y2="391.5" stroke="#939393" stroke-width="0.8"/>
<line x1="170.8" y1="391.5" x2="170.8" y2="395" stroke="#939393" stroke-width="0.8"/>
<text x="170.8" y="402.8" font-size="7.9" text-anchor="middle" fill="#333" font-weight="normal" font-style="normal" dominant-baseline="central">0</text>
<line x1="187.65" y1="391.5" x2="187.65" y2="395" stroke="#939393" stroke-width="0.8"/>
<text x="187.65" y="402.8" font-size="7.9" text-anchor="middle" fill="#333" font-weight="normal" font-style="normal" dominant-baseline="central">1</text>
<line x1="204.5" y1="391.5" x2="204.5" y2="395" stroke="#939393" stroke-width="0.8"/>
<text x="204.5" y="402.8" font-size="7.9" text-anchor="middle" fill="#333" font-weight="normal" font-style="normal" dominant-baseline="central">2</text>
<line x1="221.35" y1="391.5" x2="221.35" y2="395" stroke="#939393" stroke-width="0.8"/>
<text x="221.35" y="402.8" font-size="7.9" text-anchor="middle" fill="#333" font-weight="normal" font-style="normal" dominant-baseline="central">4</text>
<line x1="238.2" y1="391.5" x2="238.2" y2="395" stroke="#939393" stroke-width="0.8"/>
<text x="238.2" y="402.8" font-size="7.9" text-anchor="middle" fill="#333" font-weight="normal" font-style="normal" dominant-baseline="central">6</text>
<line x1="187.65" y1="381.19" x2="187.65" y2="359.52" stroke="#555" stroke-width="0.75"/>
<line x1="182.35" y1="370.14" x2="192.95" y2="370.14" stroke="#555" stroke-width="0.75"/>
<line x1="184.85" y1="381.19" x2="190.45" y2="381.19" stroke="#555" stroke-width="0.75"/>
<line x1="184.85" y1="359.52" x2="190.45" y2="359.52" stroke="#555" stroke-width="0.75"/>
<line x1="204.5" y1="379.58" x2="204.5" y2="332.6" stroke="#555" stroke-width="0.75"/>
<line x1="199.2" y1="355.88" x2="209.8" y2="355.88" stroke="#555" stroke-width="0.75"/>
<line x1="201.7" y1="379.58" x2="207.3" y2="379.58" stroke="#555" stroke-width="0.75"/>
<circle cx="168.6" cy="391.5" r="3.1" fill="#fff" stroke="#474747" stroke-width="0.75"/>
<circle cx="171" cy="391.5" r="3.1" fill="#fff" stroke="#474747" stroke-width="0.75"/>
<circle cx="173.2" cy="391.5" r="3.1" fill="#fff" stroke="#474747" stroke-width="0.75"/>
<circle cx="187.65" cy="391.5" r="3.1" fill="#fff" stroke="#474747" stroke-width="0.75"/>
<circle cx="187.65" cy="354.11" r="3.1" fill="#fff" stroke="#474747" stroke-width="0.75"/>
<circle cx="187.65" cy="366.12" r="3.1" fill="#fff" stroke="#474747" stroke-width="0.75"/>
<circle cx="202.7" cy="391.5" r="3.1" fill="#fff" stroke="#474747" stroke-width="0.75"/>
<circle cx="206.3" cy="391.5" r="3.1" fill="#fff" stroke="#474747" stroke-width="0.75"/>
<circle cx="204.5" cy="274.13" r="3.1" fill="#fff" stroke="#474747" stroke-width="0.75"/>
<circle cx="204.5" cy="330.4" r="3.1" fill="#fff" stroke="#474747" stroke-width="0.75"/>
<circle cx="219.35" cy="391.5" r="3.1" fill="#fff" stroke="#474747" stroke-width="0.75"/>
<circle cx="221.35" cy="391.5" r="3.1" fill="#fff" stroke="#474747" stroke-width="0.75"/>
<circle cx="223.35" cy="391.5" r="3.1" fill="#fff" stroke="#474747" stroke-width="0.75"/>
<circle cx="235.6" cy="391.5" r="3.1" fill="#fff" stroke="#474747" stroke-width="0.75"/>
<circle cx="240.8" cy="391.5" r="3.1" fill="#fff" stroke="#474747" stroke-width="0.75"/>
<line x1="174" y1="259.3" x2="201.8" y2="259.3" stroke="#8a8a8a" stroke-width="0.8"/>
<text x="189.1" y="254.3" font-size="8.3" text-anchor="middle" fill="#333" font-weight="normal" font-style="normal" dominant-baseline="central">0.953</text>
<line x1="205.6" y1="271.3" x2="220.7" y2="271.3" stroke="#8a8a8a" stroke-width="0.8"/>
<text x="214.6" y="266.5" font-size="8.3" text-anchor="middle" fill="#333" font-weight="normal" font-style="normal" dominant-baseline="central">0.623</text>
<line x1="170.6" y1="347.6" x2="185.3" y2="347.6" stroke="#8a8a8a" stroke-width="0.8"/>
<text x="178.5" y="342.3" font-size="8.3" text-anchor="middle" fill="#333" font-weight="normal" font-style="normal" dominant-baseline="central">0.558</text>
<text x="322.2" y="240" font-size="8.4" text-anchor="middle" fill="#333" font-weight="normal" font-style="italic" dominant-baseline="central">Ifna6</text>
<line x1="280.5" y1="256.5" x2="280.5" y2="391.4" stroke="#939393" stroke-width="0.8"/>
<line x1="276.5" y1="391.4" x2="280.5" y2="391.4" stroke="#939393" stroke-width="0.8"/>
<text x="273.5" y="391.7" font-size="7.9" text-anchor="end" fill="#333" font-weight="normal" font-style="normal" dominant-baseline="central">0</text>
<line x1="276.5" y1="357.67" x2="280.5" y2="357.67" stroke="#939393" stroke-width="0.8"/>
<text x="273.5" y="357.97" font-size="7.9" text-anchor="end" fill="#333" font-weight="normal" font-style="normal" dominant-baseline="central">0.5</text>
<line x1="276.5" y1="323.95" x2="280.5" y2="323.95" stroke="#939393" stroke-width="0.8"/>
<text x="273.5" y="324.25" font-size="7.9" text-anchor="end" fill="#333" font-weight="normal" font-style="normal" dominant-baseline="central">1.0</text>
<line x1="276.5" y1="290.23" x2="280.5" y2="290.23" stroke="#939393" stroke-width="0.8"/>
<text x="273.5" y="290.53" font-size="7.9" text-anchor="end" fill="#333" font-weight="normal" font-style="normal" dominant-baseline="central">1.5</text>
<line x1="276.5" y1="256.5" x2="280.5" y2="256.5" stroke="#939393" stroke-width="0.8"/>
<text x="273.5" y="256.8" font-size="7.9" text-anchor="end" fill="#333" font-weight="normal" font-style="normal" dominant-baseline="central">2.0</text>
<line x1="276.5" y1="391.4" x2="371" y2="391.4" stroke="#939393" stroke-width="0.8"/>
<line x1="291.8" y1="391.4" x2="291.8" y2="394.9" stroke="#939393" stroke-width="0.8"/>
<text x="291.8" y="402.8" font-size="7.9" text-anchor="middle" fill="#333" font-weight="normal" font-style="normal" dominant-baseline="central">0</text>
<line x1="308.65" y1="391.4" x2="308.65" y2="394.9" stroke="#939393" stroke-width="0.8"/>
<text x="308.65" y="402.8" font-size="7.9" text-anchor="middle" fill="#333" font-weight="normal" font-style="normal" dominant-baseline="central">1</text>
<line x1="325.5" y1="391.4" x2="325.5" y2="394.9" stroke="#939393" stroke-width="0.8"/>
<text x="325.5" y="402.8" font-size="7.9" text-anchor="middle" fill="#333" font-weight="normal" font-style="normal" dominant-baseline="central">2</text>
<line x1="342.35" y1="391.4" x2="342.35" y2="394.9" stroke="#939393" stroke-width="0.8"/>
<text x="342.35" y="402.8" font-size="7.9" text-anchor="middle" fill="#333" font-weight="normal" font-style="normal" dominant-baseline="central">4</text>
<line x1="359.2" y1="391.4" x2="359.2" y2="394.9" stroke="#939393" stroke-width="0.8"/>
<text x="359.2" y="402.8" font-size="7.9" text-anchor="middle" fill="#333" font-weight="normal" font-style="normal" dominant-baseline="central">6</text>
<line x1="308.65" y1="378.99" x2="308.65" y2="351.37" stroke="#555" stroke-width="0.75"/>
<line x1="303.35" y1="365.45" x2="313.95" y2="365.45" stroke="#555" stroke-width="0.75"/>
<line x1="305.85" y1="378.99" x2="311.45" y2="378.99" stroke="#555" stroke-width="0.75"/>
<line x1="305.85" y1="351.37" x2="311.45" y2="351.37" stroke="#555" stroke-width="0.75"/>
<line x1="325.5" y1="377.59" x2="325.5" y2="331.12" stroke="#555" stroke-width="0.75"/>
<line x1="320.2" y1="354.32" x2="330.8" y2="354.32" stroke="#555" stroke-width="0.75"/>
<line x1="322.7" y1="377.59" x2="328.3" y2="377.59" stroke="#555" stroke-width="0.75"/>
<line x1="322.7" y1="331.12" x2="328.3" y2="331.12" stroke="#555" stroke-width="0.75"/>
<circle cx="289.6" cy="391.4" r="3.1" fill="#fff" stroke="#474747" stroke-width="0.75"/>
<circle cx="292" cy="391.4" r="3.1" fill="#fff" stroke="#474747" stroke-width="0.75"/>
<circle cx="294.2" cy="391.4" r="3.1" fill="#fff" stroke="#474747" stroke-width="0.75"/>
<circle cx="308.65" cy="391.4" r="3.1" fill="#fff" stroke="#474747" stroke-width="0.75"/>
<circle cx="308.65" cy="344.2" r="3.1" fill="#fff" stroke="#474747" stroke-width="0.75"/>
<circle cx="308.65" cy="359.42" r="3.1" fill="#fff" stroke="#474747" stroke-width="0.75"/>
<circle cx="323.7" cy="391.4" r="3.1" fill="#fff" stroke="#474747" stroke-width="0.75"/>
<circle cx="327.3" cy="391.4" r="3.1" fill="#fff" stroke="#474747" stroke-width="0.75"/>
<circle cx="325.5" cy="284.32" r="3.1" fill="#fff" stroke="#474747" stroke-width="0.75"/>
<circle cx="325.5" cy="314.83" r="3.1" fill="#fff" stroke="#474747" stroke-width="0.75"/>
<circle cx="340.35" cy="391.4" r="3.1" fill="#fff" stroke="#474747" stroke-width="0.75"/>
<circle cx="342.35" cy="391.4" r="3.1" fill="#fff" stroke="#474747" stroke-width="0.75"/>
<circle cx="344.35" cy="391.4" r="3.1" fill="#fff" stroke="#474747" stroke-width="0.75"/>
<circle cx="356.6" cy="391.4" r="3.1" fill="#fff" stroke="#474747" stroke-width="0.75"/>
<circle cx="361.8" cy="391.4" r="3.1" fill="#fff" stroke="#474747" stroke-width="0.75"/>
<line x1="309.4" y1="274" x2="337.6" y2="274" stroke="#8a8a8a" stroke-width="0.8"/>
<text x="323.4" y="269.4" font-size="8.3" text-anchor="middle" fill="#333" font-weight="normal" font-style="normal" dominant-baseline="central">0.603</text>
<line x1="292.2" y1="333.4" x2="306.9" y2="333.4" stroke="#8a8a8a" stroke-width="0.8"/>
<text x="299.7" y="328.4" font-size="8.3" text-anchor="middle" fill="#333" font-weight="normal" font-style="normal" dominant-baseline="central">0.929</text>
<text x="440.2" y="240" font-size="8.4" text-anchor="middle" fill="#333" font-weight="normal" font-style="italic" dominant-baseline="central">Ifna4</text>
<line x1="395.2" y1="256.6" x2="395.2" y2="391.4" stroke="#939393" stroke-width="0.8"/>
<line x1="391.2" y1="391.4" x2="395.2" y2="391.4" stroke="#939393" stroke-width="0.8"/>
<text x="388.2" y="391.7" font-size="7.9" text-anchor="end" fill="#333" font-weight="normal" font-style="normal" dominant-baseline="central">0</text>
<line x1="391.2" y1="346.47" x2="395.2" y2="346.47" stroke="#939393" stroke-width="0.8"/>
<text x="388.2" y="346.77" font-size="7.9" text-anchor="end" fill="#333" font-weight="normal" font-style="normal" dominant-baseline="central">1</text>
<line x1="391.2" y1="301.53" x2="395.2" y2="301.53" stroke="#939393" stroke-width="0.8"/>
<text x="388.2" y="301.83" font-size="7.9" text-anchor="end" fill="#333" font-weight="normal" font-style="normal" dominant-baseline="central">2</text>
<line x1="391.2" y1="256.6" x2="395.2" y2="256.6" stroke="#939393" stroke-width="0.8"/>
<text x="388.2" y="256.9" font-size="7.9" text-anchor="end" fill="#333" font-weight="normal" font-style="normal" dominant-baseline="central">3</text>
<line x1="391.2" y1="391.4" x2="485.7" y2="391.4" stroke="#939393" stroke-width="0.8"/>
<line x1="406.5" y1="391.4" x2="406.5" y2="394.9" stroke="#939393" stroke-width="0.8"/>
<text x="406.5" y="402.8" font-size="7.9" text-anchor="middle" fill="#333" font-weight="normal" font-style="normal" dominant-baseline="central">0</text>
<line x1="423.35" y1="391.4" x2="423.35" y2="394.9" stroke="#939393" stroke-width="0.8"/>
<text x="423.35" y="402.8" font-size="7.9" text-anchor="middle" fill="#333" font-weight="normal" font-style="normal" dominant-baseline="central">1</text>
<line x1="440.2" y1="391.4" x2="440.2" y2="394.9" stroke="#939393" stroke-width="0.8"/>
<text x="440.2" y="402.8" font-size="7.9" text-anchor="middle" fill="#333" font-weight="normal" font-style="normal" dominant-baseline="central">2</text>
<line x1="457.05" y1="391.4" x2="457.05" y2="394.9" stroke="#939393" stroke-width="0.8"/>
<text x="457.05" y="402.8" font-size="7.9" text-anchor="middle" fill="#333" font-weight="normal" font-style="normal" dominant-baseline="central">4</text>
<line x1="473.9" y1="391.4" x2="473.9" y2="394.9" stroke="#939393" stroke-width="0.8"/>
<text x="473.9" y="402.8" font-size="7.9" text-anchor="middle" fill="#333" font-weight="normal" font-style="normal" dominant-baseline="central">6</text>
<line x1="423.35" y1="379.4" x2="423.35" y2="352.49" stroke="#555" stroke-width="0.75"/>
<line x1="418.05" y1="365.67" x2="428.65" y2="365.67" stroke="#555" stroke-width="0.75"/>
<line x1="420.55" y1="379.4" x2="426.15" y2="379.4" stroke="#555" stroke-width="0.75"/>
<line x1="420.55" y1="352.49" x2="426.15" y2="352.49" stroke="#555" stroke-width="0.75"/>
<line x1="440.2" y1="335.19" x2="440.2" y2="292.32" stroke="#555" stroke-width="0.75"/>
<line x1="434.9" y1="313.02" x2="445.5" y2="313.02" stroke="#555" stroke-width="0.75"/>
<line x1="437.4" y1="335.19" x2="443" y2="335.19" stroke="#555" stroke-width="0.75"/>
<line x1="437.4" y1="292.32" x2="443" y2="292.32" stroke="#555" stroke-width="0.75"/>
<line x1="457.05" y1="381.18" x2="457.05" y2="348.51" stroke="#555" stroke-width="0.75"/>
<line x1="451.75" y1="365.41" x2="462.35" y2="365.41" stroke="#555" stroke-width="0.75"/>
<line x1="454.25" y1="381.18" x2="459.85" y2="381.18" stroke="#555" stroke-width="0.75"/>
<line x1="454.25" y1="348.51" x2="459.85" y2="348.51" stroke="#555" stroke-width="0.75"/>
<line x1="473.9" y1="384.4" x2="473.9" y2="384.4" stroke="#555" stroke-width="0.75"/>
<line x1="468.6" y1="384.4" x2="479.2" y2="384.4" stroke="#555" stroke-width="0.75"/>
<circle cx="404.3" cy="391.4" r="3.1" fill="#fff" stroke="#474747" stroke-width="0.75"/>
<circle cx="406.7" cy="391.4" r="3.1" fill="#fff" stroke="#474747" stroke-width="0.75"/>
<circle cx="408.9" cy="391.4" r="3.1" fill="#fff" stroke="#474747" stroke-width="0.75"/>
<circle cx="423.35" cy="391.4" r="3.1" fill="#fff" stroke="#474747" stroke-width="0.75"/>
<circle cx="423.35" cy="346.41" r="3.1" fill="#fff" stroke="#474747" stroke-width="0.75"/>
<circle cx="423.35" cy="359.82" r="3.1" fill="#fff" stroke="#474747" stroke-width="0.75"/>
<circle cx="440.2" cy="391.4" r="3.1" fill="#fff" stroke="#474747" stroke-width="0.75"/>
<circle cx="440.2" cy="263.98" r="3.1" fill="#fff" stroke="#474747" stroke-width="0.75"/>
<circle cx="440.2" cy="284.1" r="3.1" fill="#fff" stroke="#474747" stroke-width="0.75"/>
<circle cx="437.5" cy="311.9" r="3.1" fill="#fff" stroke="#474747" stroke-width="0.75"/>
<circle cx="442.9" cy="317.62" r="3.1" fill="#fff" stroke="#474747" stroke-width="0.75"/>
<circle cx="457.05" cy="316.59" r="3.1" fill="#fff" stroke="#474747" stroke-width="0.75"/>
<circle cx="457.05" cy="334.52" r="3.1" fill="#fff" stroke="#474747" stroke-width="0.75"/>
<circle cx="454.65" cy="391.4" r="3.1" fill="#fff" stroke="#474747" stroke-width="0.75"/>
<circle cx="457.05" cy="391.4" r="3.1" fill="#fff" stroke="#474747" stroke-width="0.75"/>
<circle cx="459.45" cy="391.4" r="3.1" fill="#fff" stroke="#474747" stroke-width="0.75"/>
<circle cx="473.9" cy="378.01" r="3.1" fill="#fff" stroke="#474747" stroke-width="0.75"/>
<circle cx="473.9" cy="391.4" r="3.1" fill="#fff" stroke="#474747" stroke-width="0.75"/>
<line x1="408.4" y1="259.3" x2="436.6" y2="259.3" stroke="#8a8a8a" stroke-width="0.8"/>
<text x="426" y="255.2" font-size="8.3" text-anchor="middle" fill="#333" font-weight="normal" font-style="normal" dominant-baseline="central">0.082</text>
<line x1="440.4" y1="259.3" x2="468.2" y2="259.3" stroke="#8a8a8a" stroke-width="0.8"/>
<text x="455.8" y="255.2" font-size="8.3" text-anchor="middle" fill="#333" font-weight="normal" font-style="normal" dominant-baseline="central">0.720</text>
<line x1="440.4" y1="271.3" x2="455.3" y2="271.3" stroke="#8a8a8a" stroke-width="0.8"/>
<text x="452.4" y="268.3" font-size="8.3" text-anchor="middle" fill="#333" font-weight="normal" font-style="normal" dominant-baseline="central">0.525</text>
<text x="554.5" y="240" font-size="8.4" text-anchor="middle" fill="#333" font-weight="normal" font-style="italic" dominant-baseline="central">Ifnb1</text>
<line x1="509.5" y1="257.4" x2="509.5" y2="391.5" stroke="#939393" stroke-width="0.8"/>
<line x1="505.5" y1="391.5" x2="509.5" y2="391.5" stroke="#939393" stroke-width="0.8"/>
<text x="502.5" y="391.8" font-size="7.9" text-anchor="end" fill="#333" font-weight="normal" font-style="normal" dominant-baseline="central">0</text>
<line x1="505.5" y1="364.68" x2="509.5" y2="364.68" stroke="#939393" stroke-width="0.8"/>
<text x="502.5" y="364.98" font-size="7.9" text-anchor="end" fill="#333" font-weight="normal" font-style="normal" dominant-baseline="central">1</text>
<line x1="505.5" y1="337.86" x2="509.5" y2="337.86" stroke="#939393" stroke-width="0.8"/>
<text x="502.5" y="338.16" font-size="7.9" text-anchor="end" fill="#333" font-weight="normal" font-style="normal" dominant-baseline="central">2</text>
<line x1="505.5" y1="311.04" x2="509.5" y2="311.04" stroke="#939393" stroke-width="0.8"/>
<text x="502.5" y="311.34" font-size="7.9" text-anchor="end" fill="#333" font-weight="normal" font-style="normal" dominant-baseline="central">3</text>
<line x1="505.5" y1="284.22" x2="509.5" y2="284.22" stroke="#939393" stroke-width="0.8"/>
<text x="502.5" y="284.52" font-size="7.9" text-anchor="end" fill="#333" font-weight="normal" font-style="normal" dominant-baseline="central">4</text>
<line x1="505.5" y1="257.4" x2="509.5" y2="257.4" stroke="#939393" stroke-width="0.8"/>
<text x="502.5" y="257.7" font-size="7.9" text-anchor="end" fill="#333" font-weight="normal" font-style="normal" dominant-baseline="central">5</text>
<line x1="505.5" y1="391.5" x2="600" y2="391.5" stroke="#939393" stroke-width="0.8"/>
<line x1="520.8" y1="391.5" x2="520.8" y2="395" stroke="#939393" stroke-width="0.8"/>
<text x="520.8" y="402.8" font-size="7.9" text-anchor="middle" fill="#333" font-weight="normal" font-style="normal" dominant-baseline="central">0</text>
<line x1="537.65" y1="391.5" x2="537.65" y2="395" stroke="#939393" stroke-width="0.8"/>
<text x="537.65" y="402.8" font-size="7.9" text-anchor="middle" fill="#333" font-weight="normal" font-style="normal" dominant-baseline="central">1</text>
<line x1="554.5" y1="391.5" x2="554.5" y2="395" stroke="#939393" stroke-width="0.8"/>
<text x="554.5" y="402.8" font-size="7.9" text-anchor="middle" fill="#333" font-weight="normal" font-style="normal" dominant-baseline="central">2</text>
<line x1="571.35" y1="391.5" x2="571.35" y2="395" stroke="#939393" stroke-width="0.8"/>
<text x="571.35" y="402.8" font-size="7.9" text-anchor="middle" fill="#333" font-weight="normal" font-style="normal" dominant-baseline="central">4</text>
<line x1="588.2" y1="391.5" x2="588.2" y2="395" stroke="#939393" stroke-width="0.8"/>
<text x="588.2" y="402.8" font-size="7.9" text-anchor="middle" fill="#333" font-weight="normal" font-style="normal" dominant-baseline="central">6</text>
<line x1="537.65" y1="374.19" x2="537.65" y2="337.96" stroke="#555" stroke-width="0.75"/>
<line x1="532.35" y1="356.2" x2="542.95" y2="356.2" stroke="#555" stroke-width="0.75"/>
<line x1="534.85" y1="374.19" x2="540.45" y2="374.19" stroke="#555" stroke-width="0.75"/>
<line x1="534.85" y1="337.96" x2="540.45" y2="337.96" stroke="#555" stroke-width="0.75"/>
<line x1="554.5" y1="337.21" x2="554.5" y2="297.89" stroke="#555" stroke-width="0.75"/>
<line x1="549.2" y1="317.6" x2="559.8" y2="317.6" stroke="#555" stroke-width="0.75"/>
<line x1="551.7" y1="337.21" x2="557.3" y2="337.21" stroke="#555" stroke-width="0.75"/>
<line x1="571.35" y1="354.8" x2="571.35" y2="327.69" stroke="#555" stroke-width="0.75"/>
<line x1="566.05" y1="341.31" x2="576.65" y2="341.31" stroke="#555" stroke-width="0.75"/>
<line x1="568.55" y1="354.8" x2="574.15" y2="354.8" stroke="#555" stroke-width="0.75"/>
<line x1="568.55" y1="327.69" x2="574.15" y2="327.69" stroke="#555" stroke-width="0.75"/>
<circle cx="518.6" cy="391.5" r="3.1" fill="#fff" stroke="#474747" stroke-width="0.75"/>
<circle cx="521" cy="391.5" r="3.1" fill="#fff" stroke="#474747" stroke-width="0.75"/>
<circle cx="523.2" cy="391.5" r="3.1" fill="#fff" stroke="#474747" stroke-width="0.75"/>
<circle cx="537.65" cy="391.5" r="3.1" fill="#fff" stroke="#474747" stroke-width="0.75"/>
<circle cx="537.65" cy="334.9" r="3.1" fill="#fff" stroke="#474747" stroke-width="0.75"/>
<circle cx="537.65" cy="342.79" r="3.1" fill="#fff" stroke="#474747" stroke-width="0.75"/>
<circle cx="554.5" cy="391.5" r="3.1" fill="#fff" stroke="#474747" stroke-width="0.75"/>
<circle cx="551.9" cy="285.31" r="3.1" fill="#fff" stroke="#474747" stroke-width="0.75"/>
<circle cx="557.1" cy="287.3" r="3.1" fill="#fff" stroke="#474747" stroke-width="0.75"/>
<circle cx="554.5" cy="297.89" r="3.1" fill="#fff" stroke="#474747" stroke-width="0.75"/>
<circle cx="554.5" cy="323.91" r="3.1" fill="#fff" stroke="#474747" stroke-width="0.75"/>
<circle cx="569.05" cy="315.7" r="3.1" fill="#fff" stroke="#474747" stroke-width="0.75"/>
<circle cx="574.25" cy="320.5" r="3.1" fill="#fff" stroke="#474747" stroke-width="0.75"/>
<circle cx="571.35" cy="331.5" r="3.1" fill="#fff" stroke="#474747" stroke-width="0.75"/>
<circle cx="571.35" cy="346.19" r="3.1" fill="#fff" stroke="#474747" stroke-width="0.75"/>
<circle cx="571.35" cy="391.5" r="3.1" fill="#fff" stroke="#474747" stroke-width="0.75"/>
<circle cx="586.4" cy="364.99" r="3.1" fill="#fff" stroke="#474747" stroke-width="0.75"/>
<circle cx="591.6" cy="360.89" r="3.1" fill="#fff" stroke="#474747" stroke-width="0.75"/>
<line x1="523.9" y1="259.3" x2="552.1" y2="259.3" stroke="#8a8a8a" stroke-width="0.8"/>
<text x="538.5" y="255.2" font-size="8.3" text-anchor="middle" fill="#333" font-weight="normal" font-style="normal" dominant-baseline="central">0.054</text>
<line x1="539.2" y1="274.7" x2="554.3" y2="274.7" stroke="#8a8a8a" stroke-width="0.8"/>
<text x="546.4" y="270.1" font-size="8.3" text-anchor="middle" fill="#333" font-weight="normal" font-style="normal" dominant-baseline="central">0.98</text>
<text x="34.3" y="413.6" font-size="9.1" text-anchor="start" fill="#333" font-weight="normal" font-style="normal" dominant-baseline="central">Days after infection</text>
<line x1="114.2" y1="413.2" x2="489" y2="413.2" stroke="#4a6290" stroke-width="1.0"/>
<path d="M494 413.2 L487.5 411.1 L487.5 415.3 Z" fill="#4a6290"/>
<text x="-0.4" y="464.4" font-size="12.5" font-weight="bold" fill="#111">e</text>
<circle cx="38.3" cy="446.5" r="3.7" fill="none" stroke="#e6007e" stroke-width="1.2"/>
<line x1="38.3" y1="450.2" x2="38.3" y2="454" stroke="#e6007e" stroke-width="1.2"/>
<line x1="36.4" y1="452.4" x2="40.2" y2="452.4" stroke="#e6007e" stroke-width="1.1"/>
<circle cx="50.3" cy="446.6" r="3.9" fill="none" stroke="#222" stroke-width="1.2"/>
<line x1="53.06" y1="443.84" x2="54.75" y2="442.15" stroke="#222" stroke-width="1.2"/>
<path d="M55.95 440.95 L52.75 441.25 L55.65 444.15 Z" fill="#222"/>
<circle cx="38.5" cy="461.3" r="3.25" fill="#fff" stroke="#474747" stroke-width="0.75"/>
<rect x="47.35" y="458.45" width="5.7" height="5.7" fill="#fff" stroke="#3a3a3a" stroke-width="0.8"/>
<text x="57.3" y="461.1" font-size="8.1" text-anchor="start" fill="#333" font-weight="normal" font-style="normal" dominant-baseline="central">K18:hACE SCRIPT</text>
<text x="7.1" y="554.6" font-size="9.0" text-anchor="middle" fill="#333" font-weight="normal" font-style="normal" dominant-baseline="central" transform="rotate(-90 7.1 554.6)">Percentage of pDCs within CD45<tspan font-size="5.5" dy="-2.8">+</tspan></text>
<line x1="36.5" y1="488.3" x2="36.5" y2="622.4" stroke="#8a8a8a" stroke-width="0.8"/>
<line x1="32.5" y1="622.4" x2="36.5" y2="622.4" stroke="#8a8a8a" stroke-width="0.8"/>
<text x="28" y="622.7" font-size="7.9" text-anchor="end" fill="#333" font-weight="normal" font-style="normal" dominant-baseline="central">0</text>
<line x1="32.5" y1="577.7" x2="36.5" y2="577.7" stroke="#8a8a8a" stroke-width="0.8"/>
<text x="28" y="578" font-size="7.9" text-anchor="end" fill="#333" font-weight="normal" font-style="normal" dominant-baseline="central">0.1</text>
<line x1="32.5" y1="533" x2="36.5" y2="533" stroke="#8a8a8a" stroke-width="0.8"/>
<text x="28" y="533.3" font-size="7.9" text-anchor="end" fill="#333" font-weight="normal" font-style="normal" dominant-baseline="central">0.2</text>
<line x1="32.5" y1="488.3" x2="36.5" y2="488.3" stroke="#8a8a8a" stroke-width="0.8"/>
<text x="28" y="488.6" font-size="7.9" text-anchor="end" fill="#333" font-weight="normal" font-style="normal" dominant-baseline="central">0.3</text>
<line x1="32.5" y1="622.4" x2="126.7" y2="622.4" stroke="#8a8a8a" stroke-width="0.8"/>
<line x1="46.6" y1="622.4" x2="46.6" y2="626.4" stroke="#8a8a8a" stroke-width="0.8"/>
<text x="46.6" y="634.2" font-size="7.9" text-anchor="middle" fill="#333" font-weight="normal" font-style="normal" dominant-baseline="central">0</text>
<line x1="69.5" y1="622.4" x2="69.5" y2="626.4" stroke="#8a8a8a" stroke-width="0.8"/>
<text x="69.5" y="634.2" font-size="7.9" text-anchor="middle" fill="#333" font-weight="normal" font-style="normal" dominant-baseline="central">1</text>
<line x1="93" y1="622.4" x2="93" y2="626.4" stroke="#8a8a8a" stroke-width="0.8"/>
<text x="93" y="634.2" font-size="7.9" text-anchor="middle" fill="#333" font-weight="normal" font-style="normal" dominant-baseline="central">2</text>
<line x1="116.1" y1="622.4" x2="116.1" y2="626.4" stroke="#8a8a8a" stroke-width="0.8"/>
<text x="116.1" y="634.2" font-size="7.9" text-anchor="middle" fill="#333" font-weight="normal" font-style="normal" dominant-baseline="central">4</text>
<circle cx="42.3" cy="591.1" r="3.1" fill="#fff" stroke="#474747" stroke-width="0.75"/>
<circle cx="42.3" cy="599.3" r="3.1" fill="#fff" stroke="#474747" stroke-width="0.75"/>
<circle cx="42.3" cy="601.3" r="3.1" fill="#fff" stroke="#474747" stroke-width="0.75"/>
<circle cx="42.3" cy="607.4" r="3.1" fill="#fff" stroke="#474747" stroke-width="0.75"/>
<circle cx="42.3" cy="614" r="3.1" fill="#fff" stroke="#474747" stroke-width="0.75"/>
<circle cx="42.3" cy="617.7" r="3.1" fill="#fff" stroke="#474747" stroke-width="0.75"/>
<circle cx="65.4" cy="573.1" r="3.1" fill="#fff" stroke="#474747" stroke-width="0.75"/>
<circle cx="65.4" cy="581.3" r="3.1" fill="#fff" stroke="#474747" stroke-width="0.75"/>
<circle cx="65.4" cy="591.5" r="3.1" fill="#fff" stroke="#474747" stroke-width="0.75"/>
<circle cx="65.4" cy="595.2" r="3.1" fill="#fff" stroke="#474747" stroke-width="0.75"/>
<circle cx="65.4" cy="599.7" r="3.1" fill="#fff" stroke="#474747" stroke-width="0.75"/>
<circle cx="65.4" cy="607.4" r="3.1" fill="#fff" stroke="#474747" stroke-width="0.75"/>
<circle cx="65.4" cy="611.9" r="3.1" fill="#fff" stroke="#474747" stroke-width="0.75"/>
<rect x="71.5" y="605.6" width="5.6" height="5.6" fill="#fff" stroke="#a0a0a0" stroke-width="0.8"/>
<rect x="70.9" y="602.4" width="5.6" height="5.6" fill="#fff" stroke="#666" stroke-width="0.8"/>
<rect x="71.2" y="614" width="5.6" height="5.6" fill="#fff" stroke="#aaa" stroke-width="0.8"/>
<circle cx="88.3" cy="585" r="3.1" fill="#fff" stroke="#474747" stroke-width="0.75"/>
<circle cx="88.3" cy="593.5" r="3.1" fill="#fff" stroke="#474747" stroke-width="0.75"/>
<circle cx="88.3" cy="597.2" r="3.1" fill="#fff" stroke="#474747" stroke-width="0.75"/>
<circle cx="88.3" cy="600.9" r="3.1" fill="#fff" stroke="#474747" stroke-width="0.75"/>
<circle cx="88.3" cy="605" r="3.1" fill="#fff" stroke="#474747" stroke-width="0.75"/>
<circle cx="111.5" cy="505.8" r="3.1" fill="#fff" stroke="#474747" stroke-width="0.75"/>
<circle cx="111.5" cy="515.2" r="3.1" fill="#fff" stroke="#474747" stroke-width="0.75"/>
<circle cx="111.5" cy="528.3" r="3.1" fill="#fff" stroke="#474747" stroke-width="0.75"/>
<circle cx="111.5" cy="533.5" r="3.1" fill="#fff" stroke="#474747" stroke-width="0.75"/>
<circle cx="111.5" cy="540.8" r="3.1" fill="#fff" stroke="#474747" stroke-width="0.75"/>
<circle cx="111.5" cy="555.4" r="3.1" fill="#fff" stroke="#474747" stroke-width="0.75"/>
<rect x="117.6" y="529.7" width="5.6" height="5.6" fill="#fff" stroke="#3a3a3a" stroke-width="0.8"/>
<rect x="117.6" y="534.5" width="5.6" height="5.6" fill="#fff" stroke="#3a3a3a" stroke-width="0.8"/>
<rect x="117.6" y="552.6" width="5.6" height="5.6" fill="#fff" stroke="#3a3a3a" stroke-width="0.8"/>
<rect x="117.6" y="566.2" width="5.6" height="5.6" fill="#fff" stroke="#3a3a3a" stroke-width="0.8"/>
<line x1="118.4" y1="546.2" x2="122.4" y2="546.2" stroke="#555" stroke-width="0.8"/>
<line x1="60.4" y1="478.3" x2="126" y2="478.3" stroke="#8a8a8a" stroke-width="0.8"/>
<text x="93.8" y="473.2" font-size="8.3" text-anchor="middle" fill="#333" font-weight="normal" font-style="normal" dominant-baseline="central">0.0004</text>
<line x1="39.6" y1="489.2" x2="120.8" y2="489.2" stroke="#8a8a8a" stroke-width="0.8"/>
<text x="85" y="484.2" font-size="8.3" text-anchor="middle" fill="#333" font-weight="normal" font-style="normal" dominant-baseline="central">0.0001</text>
<line x1="39.6" y1="501.9" x2="84.4" y2="501.9" stroke="#a0a0a0" stroke-width="0.8"/>
<text x="66.3" y="497" font-size="8.3" text-anchor="middle" fill="#333" font-weight="normal" font-style="normal" dominant-baseline="central">0.928</text>
<line x1="110.4" y1="499.2" x2="124.6" y2="499.2" stroke="#a0a0a0" stroke-width="0.8"/>
<text x="117.7" y="494.2" font-size="8.3" text-anchor="middle" fill="#333" font-weight="normal" font-style="normal" dominant-baseline="central">0.282</text>
<line x1="87.5" y1="524.2" x2="124" y2="524.2" stroke="#8a8a8a" stroke-width="0.8"/>
<text x="97.3" y="518.8" font-size="8.3" text-anchor="middle" fill="#333" font-weight="normal" font-style="normal" dominant-baseline="central">0.019</text>
<line x1="64.2" y1="566.9" x2="78.8" y2="566.9" stroke="#a0a0a0" stroke-width="0.8"/>
<text x="71.9" y="561.9" font-size="8.3" text-anchor="middle" fill="#333" font-weight="normal" font-style="normal" dominant-baseline="central">0.072</text>
<text x="0.2" y="664.9" font-size="12.5" font-weight="bold" fill="#111">f</text>
<circle cx="40.4" cy="659.3" r="3.7" fill="none" stroke="#e6007e" stroke-width="1.2"/>
<line x1="40.4" y1="663" x2="40.4" y2="666.8" stroke="#e6007e" stroke-width="1.2"/>
<line x1="38.5" y1="665.2" x2="42.3" y2="665.2" stroke="#e6007e" stroke-width="1.1"/>
<circle cx="52.2" cy="659.9" r="3.9" fill="none" stroke="#222" stroke-width="1.2"/>
<line x1="54.96" y1="657.14" x2="56.65" y2="655.45" stroke="#222" stroke-width="1.2"/>
<path d="M57.85 654.25 L54.65 654.55 L57.55 657.45 Z" fill="#222"/>
<circle cx="41.4" cy="675.3" r="3.35" fill="#3db54a" stroke="#2a7431" stroke-width="0.6"/>
<rect x="49.75" y="672.35" width="6.1" height="6.1" fill="#3db54a" stroke="#2a7431" stroke-width="0.6"/>
<text x="61" y="675.2" font-size="8.3" text-anchor="start" fill="#333" font-weight="normal" font-style="normal" dominant-baseline="central">K18:hACE SCRIPT</text>
<text x="11.3" y="763.8" font-size="8.8" text-anchor="middle" fill="#333" font-weight="normal" font-style="normal" dominant-baseline="central" transform="rotate(-90 11.3 763.8)">Percentage of YFP<tspan font-size="5.5" dy="-2.8">+</tspan><tspan dy="2.8"> pDCs</tspan></text>
<line x1="37.6" y1="696.6" x2="37.6" y2="831.3" stroke="#c4c4c4" stroke-width="0.8"/>
<line x1="33.6" y1="831.3" x2="37.6" y2="831.3" stroke="#c4c4c4" stroke-width="0.8"/>
<text x="29.3" y="831.6" font-size="7.9" text-anchor="end" fill="#333" font-weight="normal" font-style="normal" dominant-baseline="central">0</text>
<line x1="33.6" y1="786.4" x2="37.6" y2="786.4" stroke="#c4c4c4" stroke-width="0.8"/>
<text x="29.3" y="786.7" font-size="7.9" text-anchor="end" fill="#333" font-weight="normal" font-style="normal" dominant-baseline="central">5</text>
<line x1="33.6" y1="741.5" x2="37.6" y2="741.5" stroke="#c4c4c4" stroke-width="0.8"/>
<text x="29.3" y="741.8" font-size="7.9" text-anchor="end" fill="#333" font-weight="normal" font-style="normal" dominant-baseline="central">10</text>
<line x1="33.6" y1="696.6" x2="37.6" y2="696.6" stroke="#c4c4c4" stroke-width="0.8"/>
<text x="29.3" y="696.9" font-size="7.9" text-anchor="end" fill="#333" font-weight="normal" font-style="normal" dominant-baseline="central">15</text>
<line x1="33.6" y1="831.3" x2="127" y2="831.3" stroke="#8a8a8a" stroke-width="0.8"/>
<line x1="47.4" y1="831.3" x2="47.4" y2="835.3" stroke="#8a8a8a" stroke-width="0.8"/>
<text x="47.4" y="842.4" font-size="7.9" text-anchor="middle" fill="#333" font-weight="normal" font-style="normal" dominant-baseline="central">0</text>
<line x1="70.5" y1="831.3" x2="70.5" y2="835.3" stroke="#8a8a8a" stroke-width="0.8"/>
<text x="70.5" y="842.4" font-size="7.9" text-anchor="middle" fill="#333" font-weight="normal" font-style="normal" dominant-baseline="central">1</text>
<line x1="93.9" y1="831.3" x2="93.9" y2="835.3" stroke="#8a8a8a" stroke-width="0.8"/>
<text x="93.9" y="842.4" font-size="7.9" text-anchor="middle" fill="#333" font-weight="normal" font-style="normal" dominant-baseline="central">2</text>
<line x1="117.4" y1="831.3" x2="117.4" y2="835.3" stroke="#8a8a8a" stroke-width="0.8"/>
<text x="117.4" y="842.4" font-size="7.9" text-anchor="middle" fill="#333" font-weight="normal" font-style="normal" dominant-baseline="central">4</text>
<circle cx="43.6" cy="831.3" r="3.2" fill="#3db54a" stroke="#2a7431" stroke-width="0.6"/>
<circle cx="66.9" cy="831.3" r="3.2" fill="#3db54a" stroke="#2a7431" stroke-width="0.6"/>
<rect x="72.2" y="828.3" width="6" height="6" fill="#3db54a" stroke="#2a7431" stroke-width="0.6"/>
<circle cx="90" cy="831.3" r="3.2" fill="#3db54a" stroke="#2a7431" stroke-width="0.6"/>
<circle cx="90" cy="824.6" r="3.2" fill="#3db54a" stroke="#2a7431" stroke-width="0.6"/>
<circle cx="90" cy="811.6" r="3.2" fill="#3db54a" stroke="#2a7431" stroke-width="0.6"/>
<circle cx="90" cy="798.9" r="3.2" fill="#3db54a" stroke="#2a7431" stroke-width="0.6"/>
<circle cx="90" cy="780.8" r="3.2" fill="#3db54a" stroke="#2a7431" stroke-width="0.6"/>
<circle cx="90" cy="752" r="3.2" fill="#3db54a" stroke="#2a7431" stroke-width="0.6"/>
<circle cx="112.8" cy="781.8" r="3.2" fill="#3db54a" stroke="#2a7431" stroke-width="0.6"/>
<circle cx="112.8" cy="774.3" r="3.2" fill="#3db54a" stroke="#2a7431" stroke-width="0.6"/>
<circle cx="112.8" cy="770.9" r="3.2" fill="#3db54a" stroke="#2a7431" stroke-width="0.6"/>
<circle cx="112.8" cy="763.7" r="3.2" fill="#3db54a" stroke="#2a7431" stroke-width="0.6"/>
<circle cx="112.8" cy="755.4" r="3.2" fill="#3db54a" stroke="#2a7431" stroke-width="0.6"/>
<circle cx="112.8" cy="745" r="3.2" fill="#3db54a" stroke="#2a7431" stroke-width="0.6"/>
<circle cx="112.8" cy="741.1" r="3.2" fill="#3db54a" stroke="#2a7431" stroke-width="0.6"/>
<circle cx="112.8" cy="723.5" r="3.2" fill="#3db54a" stroke="#2a7431" stroke-width="0.6"/>
<rect x="118.9" y="742" width="6" height="6" fill="#3db54a" stroke="#2a7431" stroke-width="0.6"/>
<rect x="118.9" y="735" width="6" height="6" fill="#3db54a" stroke="#2a7431" stroke-width="0.6"/>
<rect x="118.9" y="704.4" width="6" height="6" fill="#3db54a" stroke="#2a7431" stroke-width="0.6"/>
<line x1="47.4" y1="695.3" x2="128.3" y2="695.3" stroke="#8a8a8a" stroke-width="0.8"/>
<text x="90.2" y="691" font-size="8.3" text-anchor="middle" fill="#333" font-weight="normal" font-style="normal" dominant-baseline="central">0.0001</text>
<line x1="108.9" y1="703.1" x2="127" y2="703.1" stroke="#8a8a8a" stroke-width="0.8"/>
<text x="118" y="698.7" font-size="8.3" text-anchor="middle" fill="#333" font-weight="normal" font-style="normal" dominant-baseline="central">0.106</text>
<line x1="64.8" y1="718.2" x2="121.3" y2="718.2" stroke="#8a8a8a" stroke-width="0.8"/>
<text x="93.9" y="714.3" font-size="8.3" text-anchor="middle" fill="#333" font-weight="normal" font-style="normal" dominant-baseline="central">0.0001</text>
<line x1="79.9" y1="733.7" x2="123.9" y2="733.7" stroke="#a0a0a0" stroke-width="0.8"/>
<text x="101.6" y="729.8" font-size="8.3" text-anchor="middle" fill="#333" font-weight="normal" font-style="normal" dominant-baseline="central">0.338</text>
<line x1="64.3" y1="747.7" x2="92" y2="747.7" stroke="#8a8a8a" stroke-width="0.8"/>
<text x="77.3" y="744.1" font-size="8.3" text-anchor="middle" fill="#333" font-weight="normal" font-style="normal" dominant-baseline="central">0.071</text>
<line x1="33.7" y1="850.5" x2="130.5" y2="850.5" stroke="#4a6290" stroke-width="1.0"/>
<path d="M135.5 850.5 L129 848.4 L129 852.6 Z" fill="#4a6290"/>
<text x="42.8" y="859.2" font-size="9.1" text-anchor="start" fill="#333" font-weight="normal" font-style="normal" dominant-baseline="central">Days after infection</text>
<text x="142.3" y="464.4" font-size="12.5" font-weight="bold" fill="#111">g</text>
<text x="147.4" y="546.35" font-size="8.9" text-anchor="middle" fill="#333" font-weight="normal" font-style="normal" dominant-baseline="central" transform="rotate(-90 147.4 546.35)">Relative expression (a.u)</text>
<text x="297.4" y="462.6" font-size="8.4" text-anchor="middle" fill="#333" font-weight="normal" font-style="italic" dominant-baseline="central">Ifna1</text>
<line x1="197.2" y1="488.6" x2="197.2" y2="548" stroke="#c2c2c2" stroke-width="0.8"/>
<line x1="197.2" y1="562.3" x2="197.2" y2="622.2" stroke="#c2c2c2" stroke-width="0.8"/>
<line x1="192.1" y1="553.1" x2="202.3" y2="542.9" stroke="#666" stroke-width="0.8"/>
<line x1="192.1" y1="567.4" x2="202.3" y2="557.2" stroke="#666" stroke-width="0.8"/>
<line x1="192.7" y1="622.2" x2="197.2" y2="622.2" stroke="#c2c2c2" stroke-width="0.8"/>
<text x="189.2" y="622.5" font-size="8.3" text-anchor="end" fill="#333" font-weight="normal" font-style="normal" dominant-baseline="central">0</text>
<line x1="192.7" y1="592.9" x2="197.2" y2="592.9" stroke="#c2c2c2" stroke-width="0.8"/>
<text x="189.2" y="593.2" font-size="8.3" text-anchor="end" fill="#333" font-weight="normal" font-style="normal" dominant-baseline="central">0.00025</text>
<line x1="192.7" y1="562.8" x2="197.2" y2="562.8" stroke="#c2c2c2" stroke-width="0.8"/>
<text x="189.2" y="563.1" font-size="8.3" text-anchor="end" fill="#333" font-weight="normal" font-style="normal" dominant-baseline="central">0.00050</text>
<line x1="192.7" y1="519.2" x2="197.2" y2="519.2" stroke="#c2c2c2" stroke-width="0.8"/>
<text x="189.2" y="519.5" font-size="8.3" text-anchor="end" fill="#333" font-weight="normal" font-style="normal" dominant-baseline="central">0.005</text>
<line x1="192.7" y1="488.6" x2="197.2" y2="488.6" stroke="#c2c2c2" stroke-width="0.8"/>
<text x="189.2" y="488.9" font-size="8.3" text-anchor="end" fill="#333" font-weight="normal" font-style="normal" dominant-baseline="central">0.010</text>
<line x1="192.7" y1="622.2" x2="398.1" y2="622.2" stroke="#a6a6a6" stroke-width="0.8"/>
<line x1="229.2" y1="622.2" x2="229.2" y2="625.7" stroke="#a6a6a6" stroke-width="0.8"/>
<text x="229.2" y="634.6" font-size="8.1" text-anchor="middle" fill="#333" font-weight="normal" font-style="normal" dominant-baseline="central">0</text>
<line x1="297.6" y1="622.2" x2="297.6" y2="625.7" stroke="#a6a6a6" stroke-width="0.8"/>
<text x="297.6" y="634.6" font-size="8.1" text-anchor="middle" fill="#333" font-weight="normal" font-style="normal" dominant-baseline="central">2</text>
<line x1="365.4" y1="622.2" x2="365.4" y2="625.7" stroke="#a6a6a6" stroke-width="0.8"/>
<text x="365.4" y="634.6" font-size="8.1" text-anchor="middle" fill="#333" font-weight="normal" font-style="normal" dominant-baseline="central">4</text>
<line x1="203.9" y1="619.6" x2="203.9" y2="619.6" stroke="#555" stroke-width="0.75"/>
<line x1="200.1" y1="619.6" x2="207.7" y2="619.6" stroke="#555" stroke-width="0.75"/>
<line x1="224.3" y1="620" x2="224.3" y2="608.5" stroke="#f5a57f" stroke-width="0.75"/>
<line x1="220.5" y1="614" x2="228.1" y2="614" stroke="#f5a57f" stroke-width="0.75"/>
<line x1="222.6" y1="620" x2="226" y2="620" stroke="#f5a57f" stroke-width="0.75"/>
<line x1="222.6" y1="608.5" x2="226" y2="608.5" stroke="#f5a57f" stroke-width="0.75"/>
<line x1="244.7" y1="620" x2="244.7" y2="597" stroke="#555" stroke-width="0.75"/>
<line x1="240.9" y1="608.3" x2="248.5" y2="608.3" stroke="#555" stroke-width="0.75"/>
<line x1="243" y1="620" x2="246.4" y2="620" stroke="#555" stroke-width="0.75"/>
<line x1="243" y1="597" x2="246.4" y2="597" stroke="#555" stroke-width="0.75"/>
<line x1="254.9" y1="607" x2="254.9" y2="603.6" stroke="#f5a57f" stroke-width="0.75"/>
<line x1="251.1" y1="605.3" x2="258.7" y2="605.3" stroke="#f5a57f" stroke-width="0.75"/>
<line x1="253.2" y1="607" x2="256.6" y2="607" stroke="#f5a57f" stroke-width="0.75"/>
<line x1="253.2" y1="603.6" x2="256.6" y2="603.6" stroke="#f5a57f" stroke-width="0.75"/>
<line x1="271.9" y1="541" x2="271.9" y2="529.5" stroke="#555" stroke-width="0.75"/>
<line x1="268.1" y1="536" x2="275.7" y2="536" stroke="#555" stroke-width="0.75"/>
<line x1="270.2" y1="541" x2="273.6" y2="541" stroke="#555" stroke-width="0.75"/>
<line x1="270.2" y1="529.5" x2="273.6" y2="529.5" stroke="#555" stroke-width="0.75"/>
<line x1="282.1" y1="609" x2="282.1" y2="597.5" stroke="#555" stroke-width="0.75"/>
<line x1="278.3" y1="603.3" x2="285.9" y2="603.3" stroke="#555" stroke-width="0.75"/>
<line x1="280.4" y1="609" x2="283.8" y2="609" stroke="#555" stroke-width="0.75"/>
<line x1="280.4" y1="597.5" x2="283.8" y2="597.5" stroke="#555" stroke-width="0.75"/>
<line x1="292.3" y1="593.6" x2="292.3" y2="569.3" stroke="#f5a57f" stroke-width="0.75"/>
<line x1="288.5" y1="581" x2="296.1" y2="581" stroke="#f5a57f" stroke-width="0.75"/>
<line x1="290.6" y1="593.6" x2="294" y2="593.6" stroke="#f5a57f" stroke-width="0.75"/>
<line x1="290.6" y1="569.3" x2="294" y2="569.3" stroke="#f5a57f" stroke-width="0.75"/>
<line x1="302.5" y1="620" x2="302.5" y2="608.2" stroke="#555" stroke-width="0.75"/>
<line x1="298.7" y1="615.3" x2="306.3" y2="615.3" stroke="#555" stroke-width="0.75"/>
<line x1="300.8" y1="620" x2="304.2" y2="620" stroke="#555" stroke-width="0.75"/>
<line x1="300.8" y1="608.2" x2="304.2" y2="608.2" stroke="#555" stroke-width="0.75"/>
<line x1="322.9" y1="615.3" x2="322.9" y2="615.3" stroke="#fbd3c0" stroke-width="0.75"/>
<line x1="319.1" y1="615.3" x2="326.7" y2="615.3" stroke="#fbd3c0" stroke-width="0.75"/>
<line x1="370.6" y1="610" x2="370.6" y2="587.6" stroke="#555" stroke-width="0.75"/>
<line x1="366.8" y1="598.4" x2="374.4" y2="598.4" stroke="#555" stroke-width="0.75"/>
<line x1="368.9" y1="610" x2="372.3" y2="610" stroke="#555" stroke-width="0.75"/>
<line x1="368.9" y1="587.6" x2="372.3" y2="587.6" stroke="#555" stroke-width="0.75"/>
<line x1="380.8" y1="607" x2="380.8" y2="563.2" stroke="#555" stroke-width="0.75"/>
<line x1="377" y1="575.4" x2="384.6" y2="575.4" stroke="#555" stroke-width="0.75"/>
<line x1="379.1" y1="607" x2="382.5" y2="607" stroke="#555" stroke-width="0.75"/>
<line x1="379.1" y1="563.2" x2="382.5" y2="563.2" stroke="#555" stroke-width="0.75"/>
<circle cx="203.9" cy="618.1" r="3.0" fill="#fff" stroke="#474747" stroke-width="0.75"/>
<circle cx="203.9" cy="621" r="3.0" fill="#fff" stroke="#474747" stroke-width="0.75"/>
<circle cx="214.1" cy="619.6" r="3.35" fill="#231f20"/>
<circle cx="214.1" cy="622" r="3.35" fill="#231f20"/>
<circle cx="224.3" cy="603.8" r="3.35" fill="#f26b2e"/>
<circle cx="224.3" cy="608.6" r="3.35" fill="#f26b2e"/>
<circle cx="224.3" cy="621.3" r="3.35" fill="#f26b2e"/>
<rect x="231.4" y="614.3" width="6.2" height="6.2" fill="#fff" stroke="#3a3a3a" stroke-width="0.8"/>
<rect x="241.5" y="593.7" width="6.4" height="6.4" fill="#231f20"/>
<rect x="241.5" y="616.8" width="6.4" height="6.4" fill="#231f20"/>
<rect x="251.7" y="597.1" width="6.4" height="6.4" fill="#f26b2e"/>
<rect x="251.7" y="606.6" width="6.4" height="6.4" fill="#f26b2e"/>
<circle cx="271.9" cy="510.5" r="3.0" fill="#fff" stroke="#474747" stroke-width="0.75"/>
<circle cx="271.9" cy="539.7" r="3.0" fill="#fff" stroke="#474747" stroke-width="0.75"/>
<circle cx="271.9" cy="542.1" r="3.0" fill="#fff" stroke="#474747" stroke-width="0.75"/>
<circle cx="271.9" cy="543.7" r="3.0" fill="#fff" stroke="#474747" stroke-width="0.75"/>
<circle cx="282.1" cy="581.8" r="3.35" fill="#231f20"/>
<circle cx="282.1" cy="585" r="3.35" fill="#231f20"/>
<circle cx="282.1" cy="589.1" r="3.35" fill="#231f20"/>
<circle cx="282.1" cy="607.7" r="3.35" fill="#231f20"/>
<circle cx="282.1" cy="613.4" r="3.35" fill="#231f20"/>
<circle cx="282.1" cy="616.6" r="3.35" fill="#231f20"/>
<circle cx="282.1" cy="620.6" r="3.35" fill="#231f20"/>
<circle cx="292.3" cy="546.6" r="3.35" fill="#f26b2e"/>
<circle cx="292.3" cy="588.3" r="3.35" fill="#f26b2e"/>
<circle cx="292.3" cy="599.5" r="3.35" fill="#f26b2e"/>
<circle cx="292.3" cy="607" r="3.35" fill="#f26b2e"/>
<rect x="299.4" y="586.8" width="6.2" height="6.2" fill="#fff" stroke="#3a3a3a" stroke-width="0.8"/>
<rect x="299.4" y="613.5" width="6.2" height="6.2" fill="#fff" stroke="#3a3a3a" stroke-width="0.8"/>
<rect x="299.4" y="617.5" width="6.2" height="6.2" fill="#fff" stroke="#3a3a3a" stroke-width="0.8"/>
<rect x="309.5" y="592" width="6.4" height="6.4" fill="#231f20"/>
<rect x="309.5" y="607.8" width="6.4" height="6.4" fill="#231f20"/>
<rect x="309.5" y="610.2" width="6.4" height="6.4" fill="#231f20"/>
<rect x="309.5" y="613.4" width="6.4" height="6.4" fill="#231f20"/>
<rect x="309.5" y="617.4" width="6.4" height="6.4" fill="#231f20"/>
<rect x="319.7" y="610.3" width="6.4" height="6.4" fill="#f26b2e"/>
<rect x="319.7" y="613.8" width="6.4" height="6.4" fill="#f26b2e"/>
<rect x="319.7" y="617.8" width="6.4" height="6.4" fill="#f26b2e"/>
<circle cx="340" cy="611.6" r="3.0" fill="#fff" stroke="#474747" stroke-width="0.75"/>
<circle cx="340" cy="615.5" r="3.0" fill="#fff" stroke="#474747" stroke-width="0.75"/>
<circle cx="340" cy="620.8" r="3.0" fill="#fff" stroke="#474747" stroke-width="0.75"/>
<circle cx="350.2" cy="616" r="3.35" fill="#231f20"/>
<circle cx="350.2" cy="620.8" r="3.35" fill="#231f20"/>
<circle cx="360.4" cy="606.2" r="3.35" fill="#f26b2e"/>
<circle cx="360.4" cy="612.7" r="3.35" fill="#f26b2e"/>
<circle cx="360.4" cy="620.8" r="3.35" fill="#f26b2e"/>
<rect x="367.5" y="544.2" width="6.2" height="6.2" fill="#fff" stroke="#3a3a3a" stroke-width="0.8"/>
<rect x="367.5" y="566.6" width="6.2" height="6.2" fill="#fff" stroke="#3a3a3a" stroke-width="0.8"/>
<rect x="367.5" y="606.9" width="6.2" height="6.2" fill="#fff" stroke="#3a3a3a" stroke-width="0.8"/>
<rect x="367.5" y="610.4" width="6.2" height="6.2" fill="#fff" stroke="#3a3a3a" stroke-width="0.8"/>
<rect x="367.5" y="613.9" width="6.2" height="6.2" fill="#fff" stroke="#3a3a3a" stroke-width="0.8"/>
<rect x="367.5" y="617.4" width="6.2" height="6.2" fill="#fff" stroke="#3a3a3a" stroke-width="0.8"/>
<rect x="377.6" y="537.2" width="6.4" height="6.4" fill="#231f20"/>
<rect x="377.6" y="543.2" width="6.4" height="6.4" fill="#231f20"/>
<rect x="377.6" y="608.8" width="6.4" height="6.4" fill="#231f20"/>
<rect x="377.6" y="612.8" width="6.4" height="6.4" fill="#231f20"/>
<rect x="377.6" y="617.8" width="6.4" height="6.4" fill="#231f20"/>
<rect x="387.8" y="610.3" width="6.4" height="6.4" fill="#f26b2e"/>
<rect x="387.8" y="613.8" width="6.4" height="6.4" fill="#f26b2e"/>
<rect x="387.8" y="617.6" width="6.4" height="6.4" fill="#f26b2e"/>
<line x1="270" y1="495.5" x2="298.3" y2="495.5" stroke="#8a8a8a" stroke-width="0.8"/>
<text x="284.5" y="490.6" font-size="8.3" text-anchor="middle" fill="#333" font-weight="normal" font-style="normal" dominant-baseline="central">0.061</text>
<line x1="270" y1="506" x2="284.5" y2="506" stroke="#8a8a8a" stroke-width="0.8"/>
<text x="277.7" y="501.3" font-size="8.3" text-anchor="middle" fill="#333" font-weight="normal" font-style="normal" dominant-baseline="central">0.003</text>
<line x1="300.2" y1="566.4" x2="328.3" y2="566.4" stroke="#8a8a8a" stroke-width="0.8"/>
<text x="314.3" y="561.2" font-size="8.3" text-anchor="middle" fill="#333" font-weight="normal" font-style="normal" dominant-baseline="central">0.688</text>
<line x1="367.3" y1="515.7" x2="395.7" y2="515.7" stroke="#a0a0a0" stroke-width="0.8"/>
<text x="381.1" y="511.4" font-size="8.3" text-anchor="middle" fill="#333" font-weight="normal" font-style="normal" dominant-baseline="central">0.314</text>
<line x1="381.1" y1="531.1" x2="395.7" y2="531.1" stroke="#8a8a8a" stroke-width="0.8"/>
<text x="389.2" y="526" font-size="8.3" text-anchor="middle" fill="#333" font-weight="normal" font-style="normal" dominant-baseline="central">0.223</text>
<text x="543.5" y="462.8" font-size="8.4" text-anchor="middle" fill="#333" font-weight="normal" font-style="italic" dominant-baseline="central">Ifna5</text>
<line x1="452.6" y1="488.3" x2="452.6" y2="545.3" stroke="#8a8a8a" stroke-width="0.8"/>
<line x1="452.6" y1="559.9" x2="452.6" y2="622.2" stroke="#8a8a8a" stroke-width="0.8"/>
<line x1="447.5" y1="550.4" x2="457.7" y2="540.2" stroke="#666" stroke-width="0.8"/>
<line x1="447.5" y1="565" x2="457.7" y2="554.8" stroke="#666" stroke-width="0.8"/>
<line x1="448.1" y1="622.2" x2="452.6" y2="622.2" stroke="#8a8a8a" stroke-width="0.8"/>
<text x="444.6" y="622.5" font-size="8.3" text-anchor="end" fill="#333" font-weight="normal" font-style="normal" dominant-baseline="central">0</text>
<line x1="448.1" y1="591.5" x2="452.6" y2="591.5" stroke="#8a8a8a" stroke-width="0.8"/>
<text x="444.6" y="591.8" font-size="8.3" text-anchor="end" fill="#333" font-weight="normal" font-style="normal" dominant-baseline="central">0.00025</text>
<line x1="448.1" y1="560.9" x2="452.6" y2="560.9" stroke="#8a8a8a" stroke-width="0.8"/>
<text x="444.6" y="561.2" font-size="8.3" text-anchor="end" fill="#333" font-weight="normal" font-style="normal" dominant-baseline="central">0.00050</text>
<line x1="448.1" y1="533.7" x2="452.6" y2="533.7" stroke="#8a8a8a" stroke-width="0.8"/>
<text x="444.6" y="534" font-size="8.3" text-anchor="end" fill="#333" font-weight="normal" font-style="normal" dominant-baseline="central">0.002</text>
<line x1="448.1" y1="518.5" x2="452.6" y2="518.5" stroke="#8a8a8a" stroke-width="0.8"/>
<text x="444.6" y="518.8" font-size="8.3" text-anchor="end" fill="#333" font-weight="normal" font-style="normal" dominant-baseline="central">0.004</text>
<line x1="448.1" y1="503.5" x2="452.6" y2="503.5" stroke="#8a8a8a" stroke-width="0.8"/>
<text x="444.6" y="503.8" font-size="8.3" text-anchor="end" fill="#333" font-weight="normal" font-style="normal" dominant-baseline="central">0.006</text>
<line x1="448.1" y1="488.3" x2="452.6" y2="488.3" stroke="#8a8a8a" stroke-width="0.8"/>
<text x="444.6" y="488.6" font-size="8.3" text-anchor="end" fill="#333" font-weight="normal" font-style="normal" dominant-baseline="central">0.008</text>
<line x1="448.1" y1="622.2" x2="653.2" y2="622.2" stroke="#8e8e8e" stroke-width="0.8"/>
<line x1="484.4" y1="622.2" x2="484.4" y2="625.7" stroke="#8e8e8e" stroke-width="0.8"/>
<text x="484.4" y="634.6" font-size="8.1" text-anchor="middle" fill="#333" font-weight="normal" font-style="normal" dominant-baseline="central">0</text>
<line x1="552" y1="622.2" x2="552" y2="625.7" stroke="#8e8e8e" stroke-width="0.8"/>
<text x="552" y="634.6" font-size="8.1" text-anchor="middle" fill="#333" font-weight="normal" font-style="normal" dominant-baseline="central">2</text>
<line x1="620.3" y1="622.2" x2="620.3" y2="625.7" stroke="#8e8e8e" stroke-width="0.8"/>
<text x="620.3" y="634.6" font-size="8.1" text-anchor="middle" fill="#333" font-weight="normal" font-style="normal" dominant-baseline="central">4</text>
<line x1="459.35" y1="616" x2="459.35" y2="607" stroke="#555" stroke-width="0.75"/>
<line x1="455.55" y1="611.5" x2="463.15" y2="611.5" stroke="#555" stroke-width="0.75"/>
<line x1="457.65" y1="616" x2="461.05" y2="616" stroke="#555" stroke-width="0.75"/>
<line x1="457.65" y1="607" x2="461.05" y2="607" stroke="#555" stroke-width="0.75"/>
<line x1="469.55" y1="614" x2="469.55" y2="601" stroke="#555" stroke-width="0.75"/>
<line x1="465.75" y1="609.3" x2="473.35" y2="609.3" stroke="#555" stroke-width="0.75"/>
<line x1="467.85" y1="614" x2="471.25" y2="614" stroke="#555" stroke-width="0.75"/>
<line x1="467.85" y1="601" x2="471.25" y2="601" stroke="#555" stroke-width="0.75"/>
<line x1="500.15" y1="615.2" x2="500.15" y2="615.2" stroke="#555" stroke-width="0.75"/>
<line x1="496.35" y1="615.2" x2="503.95" y2="615.2" stroke="#555" stroke-width="0.75"/>
<line x1="510.35" y1="612.6" x2="510.35" y2="608.6" stroke="#fbd3c0" stroke-width="0.75"/>
<line x1="506.55" y1="610.6" x2="514.15" y2="610.6" stroke="#fbd3c0" stroke-width="0.75"/>
<line x1="508.65" y1="612.6" x2="512.05" y2="612.6" stroke="#fbd3c0" stroke-width="0.75"/>
<line x1="508.65" y1="608.6" x2="512.05" y2="608.6" stroke="#fbd3c0" stroke-width="0.75"/>
<line x1="527.2" y1="528.7" x2="527.2" y2="513.7" stroke="#555" stroke-width="0.75"/>
<line x1="523.4" y1="522.2" x2="531" y2="522.2" stroke="#555" stroke-width="0.75"/>
<line x1="525.5" y1="528.7" x2="528.9" y2="528.7" stroke="#555" stroke-width="0.75"/>
<line x1="525.5" y1="513.7" x2="528.9" y2="513.7" stroke="#555" stroke-width="0.75"/>
<line x1="537.4" y1="605.9" x2="537.4" y2="589.1" stroke="#555" stroke-width="0.75"/>
<line x1="533.6" y1="597.6" x2="541.2" y2="597.6" stroke="#555" stroke-width="0.75"/>
<line x1="535.7" y1="605.9" x2="539.1" y2="605.9" stroke="#555" stroke-width="0.75"/>
<line x1="535.7" y1="589.1" x2="539.1" y2="589.1" stroke="#555" stroke-width="0.75"/>
<line x1="547.6" y1="596" x2="547.6" y2="573.4" stroke="#f5a57f" stroke-width="0.75"/>
<line x1="543.8" y1="585.2" x2="551.4" y2="585.2" stroke="#f5a57f" stroke-width="0.75"/>
<line x1="545.9" y1="596" x2="549.3" y2="596" stroke="#f5a57f" stroke-width="0.75"/>
<line x1="545.9" y1="573.4" x2="549.3" y2="573.4" stroke="#f5a57f" stroke-width="0.75"/>
<line x1="557.8" y1="616" x2="557.8" y2="599.6" stroke="#555" stroke-width="0.75"/>
<line x1="554" y1="609.4" x2="561.6" y2="609.4" stroke="#555" stroke-width="0.75"/>
<line x1="556.1" y1="616" x2="559.5" y2="616" stroke="#555" stroke-width="0.75"/>
<line x1="556.1" y1="599.6" x2="559.5" y2="599.6" stroke="#555" stroke-width="0.75"/>
<line x1="625.9" y1="616" x2="625.9" y2="605.4" stroke="#555" stroke-width="0.75"/>
<line x1="622.1" y1="611.1" x2="629.7" y2="611.1" stroke="#555" stroke-width="0.75"/>
<line x1="624.2" y1="616" x2="627.6" y2="616" stroke="#555" stroke-width="0.75"/>
<line x1="624.2" y1="605.4" x2="627.6" y2="605.4" stroke="#555" stroke-width="0.75"/>
<line x1="636.1" y1="607" x2="636.1" y2="544.6" stroke="#888" stroke-width="0.75"/>
<line x1="632.3" y1="583.2" x2="639.9" y2="583.2" stroke="#888" stroke-width="0.75"/>
<line x1="634.4" y1="607" x2="637.8" y2="607" stroke="#888" stroke-width="0.75"/>
<line x1="634.4" y1="544.6" x2="637.8" y2="544.6" stroke="#888" stroke-width="0.75"/>
<circle cx="459.35" cy="577.2" r="3.0" fill="#fff" stroke="#474747" stroke-width="0.75"/>
<circle cx="459.35" cy="606.9" r="3.0" fill="#fff" stroke="#474747" stroke-width="0.75"/>
<circle cx="459.35" cy="617" r="3.0" fill="#fff" stroke="#474747" stroke-width="0.75"/>
<circle cx="459.35" cy="620.7" r="3.0" fill="#fff" stroke="#474747" stroke-width="0.75"/>
<circle cx="469.55" cy="594" r="3.35" fill="#231f20"/>
<circle cx="469.55" cy="601.7" r="3.35" fill="#231f20"/>
<circle cx="469.55" cy="613" r="3.35" fill="#231f20"/>
<circle cx="469.55" cy="617.3" r="3.35" fill="#231f20"/>
<circle cx="469.55" cy="620" r="3.35" fill="#231f20"/>
<circle cx="479.75" cy="607.8" r="3.35" fill="#f26b2e"/>
<circle cx="479.75" cy="609.6" r="3.35" fill="#f26b2e"/>
<circle cx="479.75" cy="621.1" r="3.35" fill="#f26b2e"/>
<rect x="486.85" y="615.8" width="6.2" height="6.2" fill="#fff" stroke="#3a3a3a" stroke-width="0.8"/>
<rect x="496.95" y="607.4" width="6.4" height="6.4" fill="#231f20"/>
<rect x="496.95" y="616.1" width="6.4" height="6.4" fill="#231f20"/>
<rect x="507.15" y="603.7" width="6.4" height="6.4" fill="#f26b2e"/>
<rect x="507.15" y="610.5" width="6.4" height="6.4" fill="#f26b2e"/>
<circle cx="527.2" cy="499.9" r="3.0" fill="#fff" stroke="#474747" stroke-width="0.75"/>
<circle cx="527.2" cy="506.4" r="3.0" fill="#fff" stroke="#474747" stroke-width="0.75"/>
<circle cx="527.2" cy="522.2" r="3.0" fill="#fff" stroke="#474747" stroke-width="0.75"/>
<circle cx="527.2" cy="535" r="3.0" fill="#fff" stroke="#474747" stroke-width="0.75"/>
<circle cx="527.2" cy="538.9" r="3.0" fill="#fff" stroke="#474747" stroke-width="0.75"/>
<circle cx="537.4" cy="569.4" r="3.35" fill="#231f20"/>
<circle cx="537.4" cy="573.4" r="3.35" fill="#231f20"/>
<circle cx="537.4" cy="578.3" r="3.35" fill="#231f20"/>
<circle cx="537.4" cy="610.8" r="3.35" fill="#231f20"/>
<circle cx="537.4" cy="614.7" r="3.35" fill="#231f20"/>
<circle cx="537.4" cy="618.1" r="3.35" fill="#231f20"/>
<circle cx="537.4" cy="621.6" r="3.35" fill="#231f20"/>
<circle cx="547.6" cy="543.8" r="3.35" fill="#f26b2e"/>
<circle cx="547.6" cy="562.2" r="3.35" fill="#f26b2e"/>
<circle cx="547.6" cy="578.3" r="3.35" fill="#f26b2e"/>
<circle cx="547.6" cy="601" r="3.35" fill="#f26b2e"/>
<circle cx="547.6" cy="603.9" r="3.35" fill="#f26b2e"/>
<circle cx="547.6" cy="618.7" r="3.35" fill="#f26b2e"/>
<rect x="554.7" y="564" width="6.2" height="6.2" fill="#fff" stroke="#3a3a3a" stroke-width="0.8"/>
<rect x="554.7" y="613.6" width="6.2" height="6.2" fill="#fff" stroke="#3a3a3a" stroke-width="0.8"/>
<rect x="554.7" y="618.5" width="6.2" height="6.2" fill="#fff" stroke="#3a3a3a" stroke-width="0.8"/>
<rect x="564.8" y="609.8" width="6.4" height="6.4" fill="#231f20"/>
<rect x="564.8" y="613.8" width="6.4" height="6.4" fill="#231f20"/>
<rect x="564.8" y="617.8" width="6.4" height="6.4" fill="#231f20"/>
<rect x="575" y="604.9" width="6.4" height="6.4" fill="#f26b2e"/>
<rect x="575" y="608.8" width="6.4" height="6.4" fill="#f26b2e"/>
<rect x="575" y="612.8" width="6.4" height="6.4" fill="#f26b2e"/>
<rect x="575" y="616.2" width="6.4" height="6.4" fill="#f26b2e"/>
<circle cx="595.3" cy="613.5" r="3.0" fill="#fff" stroke="#474747" stroke-width="0.75"/>
<circle cx="595.3" cy="620.8" r="3.0" fill="#fff" stroke="#474747" stroke-width="0.75"/>
<circle cx="605.5" cy="616.7" r="3.35" fill="#231f20"/>
<circle cx="605.5" cy="621.6" r="3.35" fill="#231f20"/>
<circle cx="615.7" cy="607" r="3.35" fill="#f26b2e"/>
<circle cx="615.7" cy="613.5" r="3.35" fill="#f26b2e"/>
<circle cx="615.7" cy="616.7" r="3.35" fill="#f26b2e"/>
<circle cx="615.7" cy="620.8" r="3.35" fill="#f26b2e"/>
<rect x="622.8" y="589.7" width="6.2" height="6.2" fill="#fff" stroke="#3a3a3a" stroke-width="0.8"/>
<rect x="622.8" y="595" width="6.2" height="6.2" fill="#fff" stroke="#3a3a3a" stroke-width="0.8"/>
<rect x="622.8" y="610.4" width="6.2" height="6.2" fill="#fff" stroke="#3a3a3a" stroke-width="0.8"/>
<rect x="622.8" y="613.6" width="6.2" height="6.2" fill="#fff" stroke="#3a3a3a" stroke-width="0.8"/>
<rect x="622.8" y="617.7" width="6.2" height="6.2" fill="#fff" stroke="#3a3a3a" stroke-width="0.8"/>
<rect x="632.9" y="535.2" width="6.4" height="6.4" fill="#231f20"/>
<rect x="632.9" y="572.5" width="6.4" height="6.4" fill="#231f20"/>
<rect x="632.9" y="604.6" width="6.4" height="6.4" fill="#231f20"/>
<rect x="632.9" y="608.8" width="6.4" height="6.4" fill="#231f20"/>
<rect x="632.9" y="612.8" width="6.4" height="6.4" fill="#231f20"/>
<rect x="632.9" y="617.6" width="6.4" height="6.4" fill="#231f20"/>
<rect x="643.1" y="610.3" width="6.4" height="6.4" fill="#f26b2e"/>
<rect x="643.1" y="613.8" width="6.4" height="6.4" fill="#f26b2e"/>
<rect x="643.1" y="617.6" width="6.4" height="6.4" fill="#f26b2e"/>
<line x1="523.8" y1="484.8" x2="552.9" y2="484.8" stroke="#8a8a8a" stroke-width="0.8"/>
<text x="540.5" y="480" font-size="8.3" text-anchor="middle" fill="#333" font-weight="normal" font-style="normal" dominant-baseline="central">0.046</text>
<line x1="523.8" y1="495" x2="538.6" y2="495" stroke="#8a8a8a" stroke-width="0.8"/>
<text x="533.2" y="491.1" font-size="8.3" text-anchor="middle" fill="#333" font-weight="normal" font-style="normal" dominant-baseline="central">0.004</text>
<line x1="622.1" y1="516.2" x2="650.8" y2="516.2" stroke="#a0a0a0" stroke-width="0.8"/>
<text x="636.7" y="512.1" font-size="8.3" text-anchor="middle" fill="#333" font-weight="normal" font-style="normal" dominant-baseline="central">0.314</text>
<line x1="638.6" y1="530" x2="652.9" y2="530" stroke="#8a8a8a" stroke-width="0.8"/>
<text x="646" y="526" font-size="8.3" text-anchor="middle" fill="#333" font-weight="normal" font-style="normal" dominant-baseline="central">0.154</text>
<circle cx="588.2" cy="448.3" r="3.7" fill="none" stroke="#e6007e" stroke-width="1.2"/>
<line x1="588.2" y1="452" x2="588.2" y2="455.8" stroke="#e6007e" stroke-width="1.2"/>
<line x1="586.3" y1="454.2" x2="590.1" y2="454.2" stroke="#e6007e" stroke-width="1.1"/>
<circle cx="600.9" cy="449" r="3.9" fill="none" stroke="#222" stroke-width="1.2"/>
<line x1="603.66" y1="446.24" x2="605.35" y2="444.55" stroke="#222" stroke-width="1.2"/>
<path d="M606.55 443.35 L603.35 443.65 L606.25 446.55 Z" fill="#222"/>
<circle cx="589.8" cy="462.9" r="3.25" fill="#fff" stroke="#474747" stroke-width="0.75"/>
<rect x="597.05" y="460.05" width="5.7" height="5.7" fill="#fff" stroke="#3a3a3a" stroke-width="0.8"/>
<circle cx="589.8" cy="474.2" r="3.6" fill="#231f20"/>
<rect x="596.65" y="470.95" width="6.5" height="6.5" fill="#231f20"/>
<circle cx="589.8" cy="485.1" r="3.6" fill="#f26b2e"/>
<rect x="596.65" y="481.85" width="6.5" height="6.5" fill="#f26b2e"/>
<text x="607.9" y="463.2" font-size="8.3" text-anchor="start" fill="#333" font-weight="normal" font-style="normal" dominant-baseline="central">K18:hACE</text>
<text x="607.9" y="474.5" font-size="8.3" text-anchor="start" fill="#333" font-weight="normal" font-style="normal" dominant-baseline="central">K18:hACE pDC-less</text>
<text x="607.9" y="485.4" font-size="8.3" fill="#333" dominant-baseline="central">K18:hACE <tspan font-style="italic">Tlr7</tspan><tspan font-size="5.6" dy="-2.6">KO</tspan></text>
<text x="297.4" y="663.4" font-size="8.4" text-anchor="middle" fill="#333" font-weight="normal" font-style="italic" dominant-baseline="central">Ifna4</text>
<line x1="197.4" y1="695.9" x2="197.4" y2="829.5" stroke="#c2c2c2" stroke-width="0.8"/>
<line x1="192.9" y1="829.5" x2="197.4" y2="829.5" stroke="#c2c2c2" stroke-width="0.8"/>
<text x="189.4" y="829.8" font-size="8.3" text-anchor="end" fill="#333" font-weight="normal" font-style="normal" dominant-baseline="central">0</text>
<line x1="192.9" y1="785.3" x2="197.4" y2="785.3" stroke="#c2c2c2" stroke-width="0.8"/>
<text x="189.4" y="785.6" font-size="8.3" text-anchor="end" fill="#333" font-weight="normal" font-style="normal" dominant-baseline="central">0.002</text>
<line x1="192.9" y1="740.6" x2="197.4" y2="740.6" stroke="#c2c2c2" stroke-width="0.8"/>
<text x="189.4" y="740.9" font-size="8.3" text-anchor="end" fill="#333" font-weight="normal" font-style="normal" dominant-baseline="central">0.004</text>
<line x1="192.9" y1="695.9" x2="197.4" y2="695.9" stroke="#c2c2c2" stroke-width="0.8"/>
<text x="189.4" y="696.2" font-size="8.3" text-anchor="end" fill="#333" font-weight="normal" font-style="normal" dominant-baseline="central">0.006</text>
<line x1="192.9" y1="829.5" x2="398.1" y2="829.5" stroke="#a6a6a6" stroke-width="0.8"/>
<line x1="229.2" y1="829.5" x2="229.2" y2="833" stroke="#a6a6a6" stroke-width="0.8"/>
<text x="229.2" y="842.6" font-size="8.1" text-anchor="middle" fill="#333" font-weight="normal" font-style="normal" dominant-baseline="central">0</text>
<line x1="297.4" y1="829.5" x2="297.4" y2="833" stroke="#a6a6a6" stroke-width="0.8"/>
<text x="297.4" y="842.6" font-size="8.1" text-anchor="middle" fill="#333" font-weight="normal" font-style="normal" dominant-baseline="central">2</text>
<line x1="365" y1="829.5" x2="365" y2="833" stroke="#a6a6a6" stroke-width="0.8"/>
<text x="365" y="842.6" font-size="8.1" text-anchor="middle" fill="#333" font-weight="normal" font-style="normal" dominant-baseline="central">4</text>
<line x1="224.1" y1="823.4" x2="224.1" y2="823.4" stroke="#555" stroke-width="0.75"/>
<line x1="220.3" y1="823.4" x2="227.9" y2="823.4" stroke="#555" stroke-width="0.75"/>
<line x1="271.6" y1="760.8" x2="271.6" y2="733.9" stroke="#555" stroke-width="0.75"/>
<line x1="267.8" y1="747.1" x2="275.4" y2="747.1" stroke="#555" stroke-width="0.75"/>
<line x1="269.9" y1="760.8" x2="273.3" y2="760.8" stroke="#555" stroke-width="0.75"/>
<line x1="269.9" y1="733.9" x2="273.3" y2="733.9" stroke="#555" stroke-width="0.75"/>
<line x1="281.8" y1="786" x2="281.8" y2="756.5" stroke="#777" stroke-width="0.75"/>
<line x1="278" y1="774.2" x2="285.6" y2="774.2" stroke="#777" stroke-width="0.75"/>
<line x1="280.1" y1="786" x2="283.5" y2="786" stroke="#777" stroke-width="0.75"/>
<line x1="280.1" y1="756.5" x2="283.5" y2="756.5" stroke="#777" stroke-width="0.75"/>
<line x1="292" y1="812" x2="292" y2="800" stroke="#777" stroke-width="0.75"/>
<line x1="288.2" y1="807.6" x2="295.8" y2="807.6" stroke="#777" stroke-width="0.75"/>
<line x1="290.3" y1="812" x2="293.7" y2="812" stroke="#777" stroke-width="0.75"/>
<line x1="290.3" y1="800" x2="293.7" y2="800" stroke="#777" stroke-width="0.75"/>
<circle cx="203.7" cy="829.5" r="3.0" fill="#fff" stroke="#474747" stroke-width="0.75"/>
<circle cx="204.5" cy="829.5" r="3.0" fill="#fff" stroke="#474747" stroke-width="0.75"/>
<circle cx="213.9" cy="829.5" r="3.35" fill="#231f20"/>
<circle cx="224.1" cy="809.2" r="3.35" fill="#f26b2e"/>
<circle cx="224.1" cy="818.2" r="3.35" fill="#f26b2e"/>
<circle cx="224.1" cy="829.5" r="3.35" fill="#f26b2e"/>
<rect x="231.2" y="826.4" width="6.2" height="6.2" fill="#fff" stroke="#3a3a3a" stroke-width="0.8"/>
<rect x="240.8" y="826.3" width="6.4" height="6.4" fill="#231f20"/>
<rect x="241.8" y="826.3" width="6.4" height="6.4" fill="#231f20"/>
<rect x="251.5" y="825.6" width="6.4" height="6.4" fill="#f26b2e"/>
<circle cx="271.6" cy="714.2" r="3.0" fill="#fff" stroke="#474747" stroke-width="0.75"/>
<circle cx="271.6" cy="722.1" r="3.0" fill="#fff" stroke="#474747" stroke-width="0.75"/>
<circle cx="271.6" cy="747.1" r="3.0" fill="#fff" stroke="#474747" stroke-width="0.75"/>
<circle cx="271.6" cy="773.2" r="3.0" fill="#fff" stroke="#474747" stroke-width="0.75"/>
<circle cx="271.6" cy="781.1" r="3.0" fill="#fff" stroke="#474747" stroke-width="0.75"/>
<circle cx="281.8" cy="703.4" r="3.35" fill="#231f20"/>
<circle cx="281.8" cy="723.5" r="3.35" fill="#231f20"/>
<circle cx="281.8" cy="760.8" r="3.35" fill="#231f20"/>
<circle cx="281.8" cy="783" r="3.35" fill="#231f20"/>
<circle cx="281.8" cy="793.4" r="3.35" fill="#231f20"/>
<circle cx="281.8" cy="829.5" r="3.35" fill="#231f20"/>
<circle cx="292" cy="773.2" r="3.35" fill="#f26b2e"/>
<circle cx="292" cy="802.7" r="3.35" fill="#f26b2e"/>
<circle cx="292" cy="810" r="3.35" fill="#f26b2e"/>
<circle cx="292" cy="811.5" r="3.35" fill="#f26b2e"/>
<circle cx="292" cy="819.8" r="3.35" fill="#f26b2e"/>
<circle cx="292" cy="826.3" r="3.35" fill="#f26b2e"/>
<rect x="299.1" y="822.2" width="6.2" height="6.2" fill="#fff" stroke="#3a3a3a" stroke-width="0.8"/>
<rect x="299.1" y="826.5" width="6.2" height="6.2" fill="#fff" stroke="#3a3a3a" stroke-width="0.8"/>
<rect x="309.2" y="819.1" width="6.4" height="6.4" fill="#231f20"/>
<rect x="309.2" y="822.8" width="6.4" height="6.4" fill="#231f20"/>
<rect x="309.2" y="826.1" width="6.4" height="6.4" fill="#231f20"/>
<rect x="319.4" y="824" width="6.4" height="6.4" fill="#f26b2e"/>
<rect x="319.4" y="827" width="6.4" height="6.4" fill="#f26b2e"/>
<circle cx="339.6" cy="829.5" r="3.0" fill="#fff" stroke="#474747" stroke-width="0.75"/>
<circle cx="349.8" cy="829.5" r="3.35" fill="#231f20"/>
<circle cx="360" cy="826.6" r="3.35" fill="#f26b2e"/>
<circle cx="360" cy="829.3" r="3.35" fill="#f26b2e"/>
<rect x="367.1" y="822.2" width="6.2" height="6.2" fill="#fff" stroke="#3a3a3a" stroke-width="0.8"/>
<rect x="367.1" y="826.2" width="6.2" height="6.2" fill="#fff" stroke="#3a3a3a" stroke-width="0.8"/>
<rect x="377.2" y="815.1" width="6.4" height="6.4" fill="#231f20"/>
<rect x="377.2" y="818.8" width="6.4" height="6.4" fill="#231f20"/>
<rect x="377.2" y="822.3" width="6.4" height="6.4" fill="#231f20"/>
<rect x="377.2" y="825.3" width="6.4" height="6.4" fill="#231f20"/>
<rect x="387.4" y="825.8" width="6.4" height="6.4" fill="#f26b2e"/>
<line x1="269.8" y1="683.4" x2="298.3" y2="683.4" stroke="#8a8a8a" stroke-width="0.8"/>
<text x="283.6" y="679.2" font-size="8.3" text-anchor="middle" fill="#333" font-weight="normal" font-style="normal" dominant-baseline="central">0.048</text>
<line x1="269.4" y1="692.6" x2="283.2" y2="692.6" stroke="#8a8a8a" stroke-width="0.8"/>
<text x="276.1" y="688.7" font-size="8.3" text-anchor="middle" fill="#333" font-weight="normal" font-style="normal" dominant-baseline="central">0.486</text>
<line x1="282.6" y1="699.5" x2="296.4" y2="699.5" stroke="#8a8a8a" stroke-width="0.8"/>
<text x="294.4" y="695.6" font-size="8.3" text-anchor="middle" fill="#333" font-weight="normal" font-style="normal" dominant-baseline="central">0.745</text>
<text x="550.6" y="663.7" font-size="8.4" text-anchor="middle" fill="#333" font-weight="normal" font-style="italic" dominant-baseline="central">Ifnb1</text>
<line x1="450.4" y1="694.9" x2="450.4" y2="828.4" stroke="#8a8a8a" stroke-width="0.8"/>
<line x1="445.9" y1="828.4" x2="450.4" y2="828.4" stroke="#8a8a8a" stroke-width="0.8"/>
<text x="442.4" y="828.7" font-size="8.3" text-anchor="end" fill="#333" font-weight="normal" font-style="normal" dominant-baseline="central">0</text>
<line x1="445.9" y1="795.2" x2="450.4" y2="795.2" stroke="#8a8a8a" stroke-width="0.8"/>
<text x="442.4" y="795.5" font-size="8.3" text-anchor="end" fill="#333" font-weight="normal" font-style="normal" dominant-baseline="central">0.005</text>
<line x1="445.9" y1="761.9" x2="450.4" y2="761.9" stroke="#8a8a8a" stroke-width="0.8"/>
<text x="442.4" y="762.2" font-size="8.3" text-anchor="end" fill="#333" font-weight="normal" font-style="normal" dominant-baseline="central">0.010</text>
<line x1="445.9" y1="728.2" x2="450.4" y2="728.2" stroke="#8a8a8a" stroke-width="0.8"/>
<text x="442.4" y="728.5" font-size="8.3" text-anchor="end" fill="#333" font-weight="normal" font-style="normal" dominant-baseline="central">0.015</text>
<line x1="445.9" y1="694.9" x2="450.4" y2="694.9" stroke="#8a8a8a" stroke-width="0.8"/>
<text x="442.4" y="695.2" font-size="8.3" text-anchor="end" fill="#333" font-weight="normal" font-style="normal" dominant-baseline="central">0.020</text>
<line x1="445.9" y1="828.4" x2="651.5" y2="828.4" stroke="#8e8e8e" stroke-width="0.8"/>
<line x1="482.5" y1="828.4" x2="482.5" y2="831.9" stroke="#8e8e8e" stroke-width="0.8"/>
<text x="482.5" y="842.6" font-size="8.1" text-anchor="middle" fill="#333" font-weight="normal" font-style="normal" dominant-baseline="central">0</text>
<line x1="550.6" y1="828.4" x2="550.6" y2="831.9" stroke="#8e8e8e" stroke-width="0.8"/>
<text x="550.6" y="842.6" font-size="8.1" text-anchor="middle" fill="#333" font-weight="normal" font-style="normal" dominant-baseline="central">2</text>
<line x1="618.6" y1="828.4" x2="618.6" y2="831.9" stroke="#8e8e8e" stroke-width="0.8"/>
<text x="618.6" y="842.6" font-size="8.1" text-anchor="middle" fill="#333" font-weight="normal" font-style="normal" dominant-baseline="central">4</text>
<line x1="525.2" y1="800.2" x2="525.2" y2="767.2" stroke="#555" stroke-width="0.75"/>
<line x1="521.4" y1="783.4" x2="529" y2="783.4" stroke="#555" stroke-width="0.75"/>
<line x1="523.5" y1="800.2" x2="526.9" y2="800.2" stroke="#555" stroke-width="0.75"/>
<line x1="523.5" y1="767.2" x2="526.9" y2="767.2" stroke="#555" stroke-width="0.75"/>
<line x1="535.4" y1="815" x2="535.4" y2="801" stroke="#555" stroke-width="0.75"/>
<line x1="531.6" y1="808" x2="539.2" y2="808" stroke="#555" stroke-width="0.75"/>
<line x1="533.7" y1="815" x2="537.1" y2="815" stroke="#555" stroke-width="0.75"/>
<line x1="533.7" y1="801" x2="537.1" y2="801" stroke="#555" stroke-width="0.75"/>
<line x1="545.6" y1="822.8" x2="545.6" y2="822.8" stroke="#777" stroke-width="0.75"/>
<line x1="541.8" y1="822.8" x2="549.4" y2="822.8" stroke="#777" stroke-width="0.75"/>
<circle cx="457.4" cy="828.4" r="3.0" fill="#fff" stroke="#474747" stroke-width="0.75"/>
<circle cx="467.6" cy="828.4" r="3.35" fill="#231f20"/>
<circle cx="477.8" cy="822.6" r="3.35" fill="#f26b2e"/>
<circle cx="477.8" cy="827.9" r="3.35" fill="#f26b2e"/>
<rect x="484.9" y="825.3" width="6.2" height="6.2" fill="#fff" stroke="#3a3a3a" stroke-width="0.8"/>
<rect x="495" y="825.2" width="6.4" height="6.4" fill="#231f20"/>
<rect x="505.2" y="825.2" width="6.4" height="6.4" fill="#f26b2e"/>
<circle cx="525.2" cy="722.5" r="3.0" fill="#fff" stroke="#474747" stroke-width="0.75"/>
<circle cx="525.2" cy="767.2" r="3.0" fill="#fff" stroke="#474747" stroke-width="0.75"/>
<circle cx="525.2" cy="796.2" r="3.0" fill="#fff" stroke="#474747" stroke-width="0.75"/>
<circle cx="525.2" cy="805.9" r="3.0" fill="#fff" stroke="#474747" stroke-width="0.75"/>
<circle cx="525.2" cy="824" r="3.0" fill="#fff" stroke="#474747" stroke-width="0.75"/>
<circle cx="535.4" cy="786.8" r="3.35" fill="#231f20"/>
<circle cx="535.4" cy="792.7" r="3.35" fill="#231f20"/>
<circle cx="535.4" cy="805.9" r="3.35" fill="#231f20"/>
<circle cx="535.4" cy="818.8" r="3.35" fill="#231f20"/>
<circle cx="535.4" cy="828.5" r="3.35" fill="#231f20"/>
<circle cx="545.6" cy="810.1" r="3.35" fill="#f26b2e"/>
<circle cx="545.6" cy="817.6" r="3.35" fill="#f26b2e"/>
<circle cx="545.6" cy="825" r="3.35" fill="#f26b2e"/>
<circle cx="545.6" cy="828.5" r="3.35" fill="#f26b2e"/>
<rect x="552.7" y="825.1" width="6.2" height="6.2" fill="#fff" stroke="#3a3a3a" stroke-width="0.8"/>
<rect x="562.8" y="825" width="6.4" height="6.4" fill="#231f20"/>
<rect x="573" y="825" width="6.4" height="6.4" fill="#f26b2e"/>
<circle cx="593.3" cy="828.4" r="3.0" fill="#fff" stroke="#474747" stroke-width="0.75"/>
<circle cx="603.5" cy="828.4" r="3.35" fill="#231f20"/>
<circle cx="613.7" cy="828" r="3.35" fill="#f26b2e"/>
<rect x="620.8" y="824.5" width="6.2" height="6.2" fill="#fff" stroke="#3a3a3a" stroke-width="0.8"/>
<rect x="620.8" y="825.5" width="6.2" height="6.2" fill="#fff" stroke="#3a3a3a" stroke-width="0.8"/>
<rect x="630.9" y="824.4" width="6.4" height="6.4" fill="#231f20"/>
<rect x="630.9" y="825.4" width="6.4" height="6.4" fill="#231f20"/>
<rect x="641.1" y="825.2" width="6.4" height="6.4" fill="#f26b2e"/>
<line x1="522.1" y1="709.1" x2="550.8" y2="709.1" stroke="#8a8a8a" stroke-width="0.8"/>
<text x="535.7" y="706.4" font-size="8.3" text-anchor="middle" fill="#333" font-weight="normal" font-style="normal" dominant-baseline="central">0.089</text>
<line x1="520.4" y1="717.2" x2="536.9" y2="717.2" stroke="#8a8a8a" stroke-width="0.8"/>
<text x="530" y="714.4" font-size="8.3" text-anchor="middle" fill="#333" font-weight="normal" font-style="normal" dominant-baseline="central">0.794</text>
<line x1="534.3" y1="780.6" x2="548.5" y2="780.6" stroke="#8a8a8a" stroke-width="0.8"/>
<text x="541.2" y="777.2" font-size="8.3" text-anchor="middle" fill="#333" font-weight="normal" font-style="normal" dominant-baseline="central">0.697</text>
<text x="194.3" y="851.2" font-size="9.1" text-anchor="start" fill="#333" font-weight="normal" font-style="normal" dominant-baseline="central">Days after infection</text>
<line x1="274.9" y1="851" x2="645" y2="851" stroke="#4a6290" stroke-width="1.0"/>
<path d="M650.2 851 L643.7 848.9 L643.7 853.1 Z" fill="#4a6290"/>
</svg></body></html>
